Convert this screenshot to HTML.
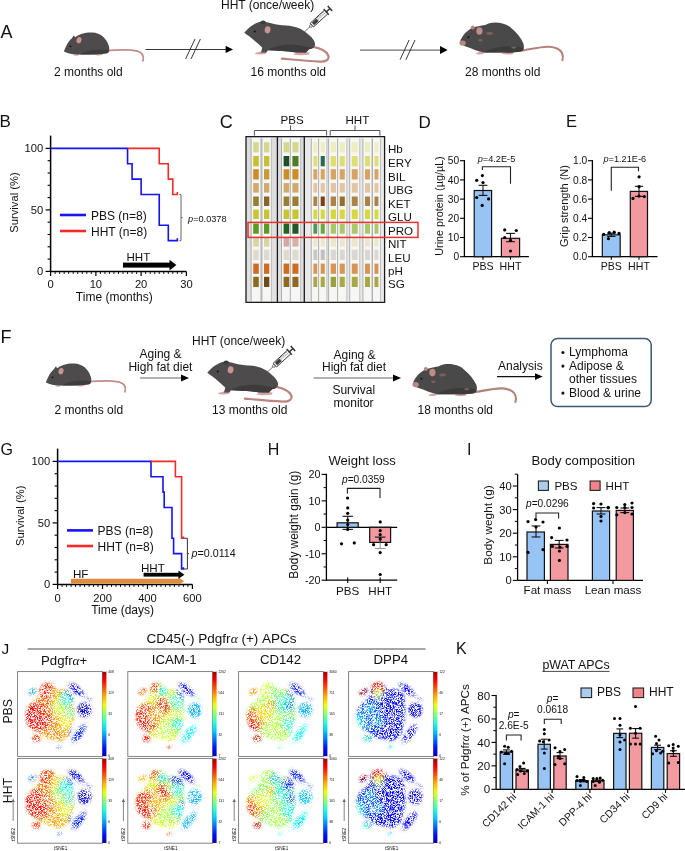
<!DOCTYPE html>
<html><head><meta charset="utf-8"><title>Figure</title>
<style>
html,body{margin:0;padding:0;background:#fff;}
svg{display:block;will-change:transform;}
text{font-family:"Liberation Sans",sans-serif;fill:#111;}
</style></head><body>
<svg width="685" height="851" viewBox="0 0 685 851" font-family="Liberation Sans, sans-serif">
<rect x="0" y="0" width="685" height="851" fill="#fff"/>
<text x="0.6" y="37.7" font-size="18">A</text>
<g transform="translate(0,0)">
<path d="M107,50.6 C118,49.6 131,49.6 137.5,51.2 C142.6,52.8 144.2,56.5 142.9,60.8" fill="none" stroke="#bf8e89" stroke-width="1.8" stroke-linecap="round"/>
<ellipse cx="76.5" cy="54.6" rx="3.2" ry="1.1" fill="#d3a09c"/>
<ellipse cx="98.5" cy="54.3" rx="4.2" ry="1.1" fill="#d3a09c"/>
<path d="M63.9,51.6 C65,48.5 66.8,44.5 68.8,41.6 C69.8,40 70.8,39.2 71.8,38.4 L73.6,35.4 L75.6,37.2 C79,34.2 85,32.4 92.2,32.6 C100.5,32.9 106.2,38.4 108.6,45.2 C109.8,48.8 109.6,52 107,53.2 C98,54.4 88,54.6 80,54.6 C74,54.6 68.5,54 63.9,51.6 Z" fill="#4d4b4b"/>
<path d="M80,54.5 C86,50 96,49 107.5,50 C109.4,51.4 108.8,52.8 107,53.2 C98,54.4 88,54.6 80,54.5 Z" fill="#3e3c3c"/>
<ellipse cx="79" cy="40.2" rx="2.5" ry="3.2" fill="#c99494" transform="rotate(15 79 40.2)"/>
<circle cx="70.5" cy="46.3" r="0.9" fill="#111"/>
</g>
<g transform="translate(0,0)">
<path d="M312.5,46.6 C319.5,48 326.8,51 328.4,55.6 C329.6,59.6 325.5,61.9 319.8,61.6 C306,61 293,59.6 281.8,58.6" fill="none" stroke="#b8857f" stroke-width="2.2" stroke-linecap="round"/>
<path d="M254.5,53.8 C257,51.6 262,51.2 266.5,51.6 L266,53.8 C262,54.6 257.5,54.6 254.5,53.8 Z" fill="#d5a3a0"/>
<path d="M293,54.4 C297,52.4 304,52 309.5,52.6 L309,54.6 C304,55.4 297.5,55.4 293,54.4 Z" fill="#d5a3a0"/>
<path d="M244.3,32.6 C246.5,30 249.5,27 252.5,25.2 C255.5,23.4 259,21.6 262,21.4 C268,22 275,24.8 286,25.4 C296,26 303,29 309,35 C313,38.5 315.6,42 315,45.2 C314.5,47.6 312,48.6 309,49.2 L306,52.6 L296,52.6 C290,51.4 286,51.2 281.8,51 C276,50.6 271,50.4 268,50.2 L266.4,52.4 L261,52.4 L262.2,47.4 C258,43.6 253,39.4 249.5,36.6 C247,34.8 245,33.6 244.3,32.6 Z" fill="#4d4b4b"/>
<path d="M268,50.2 C275,45 290,44 300,45.5 C306,46.5 311,47.8 313.5,47.6 C312.5,48.6 311,49 309,49.2 L306,52.6 L296,52.6 C290,51.4 284,51 268,50.2 Z" fill="#3d3b3b"/>
<ellipse cx="263.2" cy="22.6" rx="2.6" ry="2" fill="#3d3b3b"/>
<ellipse cx="267.6" cy="29.8" rx="2.9" ry="3.6" fill="#c99494" transform="rotate(10 267.6 29.8)"/>
<circle cx="254.8" cy="31.6" r="1" fill="#111"/>
</g>
<g transform="translate(0,0)">
<g transform="translate(302.7,33.5) rotate(-42.5)">
<line x1="0" y1="0" x2="10.2" y2="0" stroke="#555" stroke-width="0.8"/>
<rect x="10" y="-1.3" width="2.4" height="2.6" rx="0.8" fill="#fafafa" stroke="#333" stroke-width="0.7"/>
<rect x="12.4" y="-2.5" width="19.6" height="5" fill="#f6f6f6" stroke="#333" stroke-width="0.9"/>
<rect x="14" y="-1.7" width="6.2" height="3.4" fill="#3c3c3c"/>
<line x1="20.2" y1="0" x2="32" y2="0" stroke="#999" stroke-width="0.6"/>
<line x1="21.5" y1="-2.5" x2="21.5" y2="-1" stroke="#333" stroke-width="0.55"/>
<line x1="23.4" y1="-2.5" x2="23.4" y2="-1" stroke="#333" stroke-width="0.55"/>
<line x1="25.3" y1="-2.5" x2="25.3" y2="-1" stroke="#333" stroke-width="0.55"/>
<line x1="27.2" y1="-2.5" x2="27.2" y2="-1" stroke="#333" stroke-width="0.55"/>
<line x1="29.1" y1="-2.5" x2="29.1" y2="-1" stroke="#333" stroke-width="0.55"/>
<line x1="32" y1="-3.9" x2="32" y2="3.9" stroke="#333" stroke-width="1.2"/>
<line x1="32" y1="0" x2="37" y2="0" stroke="#333" stroke-width="1.4"/>
<line x1="37" y1="-3.3" x2="37" y2="3.3" stroke="#333" stroke-width="1.5"/>
</g></g>
<g transform="translate(0,0)">
<path d="M522.5,50.4 C533,48.6 543,46.4 549,46.8 C555,47.2 560,49 562,53 C563.4,56 563,58.4 562.4,60.3" fill="none" stroke="#b3817c" stroke-width="2.1" stroke-linecap="round"/>
<path d="M475.5,53.8 C477.5,52 481,51.6 484,52 L483.5,54 C480.5,54.6 478,54.6 475.5,53.8 Z" fill="#d5a3a0"/>
<path d="M501.5,53.8 C504,52 509,51.6 513.5,52 L513,54 C509,54.8 505,54.8 501.5,53.8 Z" fill="#d5a3a0"/>
<path d="M459.7,42.7 C460.8,38.2 464,33.6 467.6,31 C470,29 473,26.8 476,26.8 C479.5,26 482.6,25.4 485.2,25 C489,23 492,22.4 495.3,22.4 C502,22.4 508,24.5 512,28.8 C517,33 521,38 523.2,43 C524.6,47 524,50 521,51.6 C515,52.6 509,52.8 505.4,52.6 L484,52.6 C478,51.6 472,48.6 465,46.2 C462,45.2 459.5,44 459.7,42.7 Z" fill="#4a4949"/>
<path d="M484,52.6 C490,47 505,46 515,46.5 C519,46.8 522,47.6 523.6,48.4 C523.4,50 522.6,51 521,51.6 C515,52.6 509,52.8 505.4,52.6 Z" fill="#3c3b3b"/>
<ellipse cx="462.6" cy="43" rx="3.2" ry="2.6" fill="#b58a84"/>
<ellipse cx="472.8" cy="27.4" rx="2" ry="2" fill="#b88680"/>
<ellipse cx="479.4" cy="31" rx="3.1" ry="3.8" fill="#c08c88"/>
<ellipse cx="489.6" cy="33.4" rx="3.4" ry="1.4" fill="#7c605d"/>
<ellipse cx="480.4" cy="40.2" rx="2.3" ry="1.2" fill="#7c605d"/>
<ellipse cx="513.8" cy="47.6" rx="2.6" ry="1.1" fill="#7c605d"/>
<circle cx="468.4" cy="37.2" r="1" fill="#111"/>
</g>
<text x="221" y="9" font-size="12">HHT (once/week)</text>
<text x="54" y="76" font-size="12">2 months old</text>
<text x="250.6" y="76" font-size="12">16 months old</text>
<text x="465" y="76" font-size="12">28 months old</text>
<line x1="145.4" y1="49.4" x2="227" y2="49.4" stroke="#3a3a3a" stroke-width="1.05"/>
<polygon points="225.6,45.8 233,49.4 225.6,53" fill="#000"/>
<line x1="185.6" y1="59" x2="195" y2="39" stroke="#222" stroke-width="0.9"/>
<line x1="191" y1="59" x2="200.4" y2="39" stroke="#222" stroke-width="0.9"/>
<line x1="360" y1="50.1" x2="441" y2="50.1" stroke="#707070" stroke-width="1.1"/>
<polygon points="440,46.1 447.6,50.1 440,54.1" fill="#000"/>
<line x1="400.1" y1="59.7" x2="409.1" y2="40" stroke="#222" stroke-width="0.9"/>
<line x1="405.9" y1="59.7" x2="415" y2="40" stroke="#222" stroke-width="0.9"/>
<text x="-0.6" y="127" font-size="17">B</text>
<line x1="50.6" y1="135.6" x2="50.6" y2="272" stroke="#000" stroke-width="1.5"/>
<line x1="45.6" y1="271.4" x2="50.6" y2="271.4" stroke="#000" stroke-width="1.2"/>
<line x1="47.6" y1="259.1" x2="50.6" y2="259.1" stroke="#000" stroke-width="1.1"/>
<line x1="47.6" y1="246.8" x2="50.6" y2="246.8" stroke="#000" stroke-width="1.1"/>
<line x1="47.6" y1="234.5" x2="50.6" y2="234.5" stroke="#000" stroke-width="1.1"/>
<line x1="47.6" y1="222.2" x2="50.6" y2="222.2" stroke="#000" stroke-width="1.1"/>
<line x1="45.6" y1="209.9" x2="50.6" y2="209.9" stroke="#000" stroke-width="1.2"/>
<line x1="47.6" y1="197.6" x2="50.6" y2="197.6" stroke="#000" stroke-width="1.1"/>
<line x1="47.6" y1="185.3" x2="50.6" y2="185.3" stroke="#000" stroke-width="1.1"/>
<line x1="47.6" y1="173" x2="50.6" y2="173" stroke="#000" stroke-width="1.1"/>
<line x1="47.6" y1="160.7" x2="50.6" y2="160.7" stroke="#000" stroke-width="1.1"/>
<line x1="45.6" y1="148.4" x2="50.6" y2="148.4" stroke="#000" stroke-width="1.2"/>
<text x="43.2" y="152.4" font-size="11.2" text-anchor="end">100</text>
<text x="43.2" y="213.9" font-size="11.2" text-anchor="end">50</text>
<text x="43.2" y="275.4" font-size="11.2" text-anchor="end">0</text>
<line x1="49.9" y1="271.4" x2="186.4" y2="271.4" stroke="#000" stroke-width="1.5"/>
<line x1="50.6" y1="271.4" x2="50.6" y2="276" stroke="#000" stroke-width="1.2"/>
<line x1="55.13" y1="271.4" x2="55.13" y2="274" stroke="#000" stroke-width="0.9"/>
<line x1="59.65" y1="271.4" x2="59.65" y2="274" stroke="#000" stroke-width="0.9"/>
<line x1="64.18" y1="271.4" x2="64.18" y2="274" stroke="#000" stroke-width="0.9"/>
<line x1="68.71" y1="271.4" x2="68.71" y2="274" stroke="#000" stroke-width="0.9"/>
<line x1="73.23" y1="271.4" x2="73.23" y2="274" stroke="#000" stroke-width="0.9"/>
<line x1="77.76" y1="271.4" x2="77.76" y2="274" stroke="#000" stroke-width="0.9"/>
<line x1="82.29" y1="271.4" x2="82.29" y2="274" stroke="#000" stroke-width="0.9"/>
<line x1="86.81" y1="271.4" x2="86.81" y2="274" stroke="#000" stroke-width="0.9"/>
<line x1="91.34" y1="271.4" x2="91.34" y2="274" stroke="#000" stroke-width="0.9"/>
<line x1="95.87" y1="271.4" x2="95.87" y2="276" stroke="#000" stroke-width="1.2"/>
<line x1="100.39" y1="271.4" x2="100.39" y2="274" stroke="#000" stroke-width="0.9"/>
<line x1="104.92" y1="271.4" x2="104.92" y2="274" stroke="#000" stroke-width="0.9"/>
<line x1="109.45" y1="271.4" x2="109.45" y2="274" stroke="#000" stroke-width="0.9"/>
<line x1="113.97" y1="271.4" x2="113.97" y2="274" stroke="#000" stroke-width="0.9"/>
<line x1="118.5" y1="271.4" x2="118.5" y2="274" stroke="#000" stroke-width="0.9"/>
<line x1="123.03" y1="271.4" x2="123.03" y2="274" stroke="#000" stroke-width="0.9"/>
<line x1="127.55" y1="271.4" x2="127.55" y2="274" stroke="#000" stroke-width="0.9"/>
<line x1="132.08" y1="271.4" x2="132.08" y2="274" stroke="#000" stroke-width="0.9"/>
<line x1="136.61" y1="271.4" x2="136.61" y2="274" stroke="#000" stroke-width="0.9"/>
<line x1="141.13" y1="271.4" x2="141.13" y2="276" stroke="#000" stroke-width="1.2"/>
<line x1="145.66" y1="271.4" x2="145.66" y2="274" stroke="#000" stroke-width="0.9"/>
<line x1="150.19" y1="271.4" x2="150.19" y2="274" stroke="#000" stroke-width="0.9"/>
<line x1="154.71" y1="271.4" x2="154.71" y2="274" stroke="#000" stroke-width="0.9"/>
<line x1="159.24" y1="271.4" x2="159.24" y2="274" stroke="#000" stroke-width="0.9"/>
<line x1="163.77" y1="271.4" x2="163.77" y2="274" stroke="#000" stroke-width="0.9"/>
<line x1="168.29" y1="271.4" x2="168.29" y2="274" stroke="#000" stroke-width="0.9"/>
<line x1="172.82" y1="271.4" x2="172.82" y2="274" stroke="#000" stroke-width="0.9"/>
<line x1="177.35" y1="271.4" x2="177.35" y2="274" stroke="#000" stroke-width="0.9"/>
<line x1="181.87" y1="271.4" x2="181.87" y2="274" stroke="#000" stroke-width="0.9"/>
<line x1="186.4" y1="271.4" x2="186.4" y2="276" stroke="#000" stroke-width="1.2"/>
<text x="50.6" y="288.4" font-size="11.2" text-anchor="middle">0</text>
<text x="95.87" y="288.4" font-size="11.2" text-anchor="middle">10</text>
<text x="141.13" y="288.4" font-size="11.2" text-anchor="middle">20</text>
<text x="186.4" y="288.4" font-size="11.2" text-anchor="middle">30</text>
<text x="114.3" y="301.2" font-size="12" text-anchor="middle">Time (months)</text>
<text transform="translate(17.9,202.5) rotate(-90)" x="0" y="0" font-size="11.2" text-anchor="middle">Survival (%)</text>
<path d="M50.6,148.4 H127.55 V163.77 H132.08 V179.15 H141.13 V194.52 H159.24 V225.27 H168.29 V240.65 H177.35 V238.25" fill="none" stroke="#1414f5" stroke-width="1.6"/>
<path d="M127.55,148.4 H159.24 V163.77 H168.29 V179.15 H172.82 V194.52 H177.35 V192.12" fill="none" stroke="#f52a2a" stroke-width="1.6"/>
<line x1="60" y1="215" x2="86" y2="215" stroke="#1414f5" stroke-width="2.6"/>
<line x1="60" y1="231" x2="86" y2="231" stroke="#f52a2a" stroke-width="2.6"/>
<text x="91" y="220" font-size="12">PBS (n=8)</text>
<text x="91" y="235.6" font-size="12">HHT (n=8)</text>
<path d="M179.4,194.52 H181 V240.65 H179.4 M181,217.59 H182.6" fill="none" stroke="#666" stroke-width="1"/>
<text x="188" y="222" font-size="9.2"><tspan font-style="italic">p</tspan>=0.0378</text>
<rect x="123" y="262.6" width="47.5" height="5" fill="#000" stroke="none" stroke-width="1"/>
<polygon points="169.5,259.8 176.4,265.1 169.5,270.4" fill="#000"/>
<text x="126.4" y="261" font-size="11.6">HHT</text>
<text x="219.8" y="127.6" font-size="18">C</text>
<text x="280.5" y="123.5" font-size="11.6">PBS</text>
<text x="345.4" y="123.5" font-size="11.6">HHT</text>
<path d="M254.4,135.7 V130.5 H326.6 V135.7 M290.5,130.5 V125.4" fill="none" stroke="#555" stroke-width="1"/>
<path d="M330.2,135.7 V130.5 H379.9 V135.7 M355,130.5 V125.4" fill="none" stroke="#555" stroke-width="1"/>
<defs><linearGradient id="pg" x1="0" y1="0" x2="0" y2="1"><stop offset="0" stop-color="#dcdcdc"/><stop offset="1" stop-color="#e2e2e2"/></linearGradient></defs>
<rect x="246" y="136.6" width="138.6" height="165.8" fill="url(#pg)" stroke="none" stroke-width="1"/>
<rect x="304.3" y="136.6" width="80.3" height="165.8" fill="#e9e9e9" stroke="none" stroke-width="1"/>
<rect x="251.4" y="137.6" width="9.2" height="163.8" fill="#f6f6f4" stroke="none" stroke-width="1"/>
<line x1="251.1" y1="138.6" x2="251.1" y2="301.4" stroke="#a0a0a0" stroke-width="0.8"/>
<line x1="260.9" y1="138.6" x2="260.9" y2="301.4" stroke="#b4b4b4" stroke-width="0.8"/>
<rect x="262.2" y="137.6" width="8.9" height="163.8" fill="#f6f6f4" stroke="none" stroke-width="1"/>
<line x1="261.9" y1="138.6" x2="261.9" y2="301.4" stroke="#a0a0a0" stroke-width="0.8"/>
<line x1="271.4" y1="138.6" x2="271.4" y2="301.4" stroke="#b4b4b4" stroke-width="0.8"/>
<rect x="281.8" y="137.6" width="9.2" height="163.8" fill="#f6f6f4" stroke="none" stroke-width="1"/>
<line x1="281.5" y1="138.6" x2="281.5" y2="301.4" stroke="#a0a0a0" stroke-width="0.8"/>
<line x1="291.3" y1="138.6" x2="291.3" y2="301.4" stroke="#b4b4b4" stroke-width="0.8"/>
<rect x="290.6" y="137.6" width="9.7" height="163.8" fill="#f6f6f4" stroke="none" stroke-width="1"/>
<line x1="290.3" y1="138.6" x2="290.3" y2="301.4" stroke="#a0a0a0" stroke-width="0.8"/>
<line x1="300.6" y1="138.6" x2="300.6" y2="301.4" stroke="#b4b4b4" stroke-width="0.8"/>
<rect x="311.6" y="137.6" width="7.4" height="163.8" fill="#f6f6f4" stroke="none" stroke-width="1"/>
<line x1="311.3" y1="138.6" x2="311.3" y2="301.4" stroke="#a0a0a0" stroke-width="0.8"/>
<line x1="319.3" y1="138.6" x2="319.3" y2="301.4" stroke="#b4b4b4" stroke-width="0.8"/>
<rect x="318.9" y="137.6" width="7.7" height="163.8" fill="#f6f6f4" stroke="none" stroke-width="1"/>
<line x1="318.6" y1="138.6" x2="318.6" y2="301.4" stroke="#a0a0a0" stroke-width="0.8"/>
<line x1="326.9" y1="138.6" x2="326.9" y2="301.4" stroke="#b4b4b4" stroke-width="0.8"/>
<rect x="328.9" y="137.6" width="8.9" height="163.8" fill="#f6f6f4" stroke="none" stroke-width="1"/>
<line x1="328.6" y1="138.6" x2="328.6" y2="301.4" stroke="#a0a0a0" stroke-width="0.8"/>
<line x1="338.1" y1="138.6" x2="338.1" y2="301.4" stroke="#b4b4b4" stroke-width="0.8"/>
<rect x="337.9" y="137.6" width="8.7" height="163.8" fill="#f6f6f4" stroke="none" stroke-width="1"/>
<line x1="337.6" y1="138.6" x2="337.6" y2="301.4" stroke="#a0a0a0" stroke-width="0.8"/>
<line x1="346.9" y1="138.6" x2="346.9" y2="301.4" stroke="#b4b4b4" stroke-width="0.8"/>
<rect x="350" y="137.6" width="9.5" height="163.8" fill="#f6f6f4" stroke="none" stroke-width="1"/>
<line x1="349.7" y1="138.6" x2="349.7" y2="301.4" stroke="#a0a0a0" stroke-width="0.8"/>
<line x1="359.8" y1="138.6" x2="359.8" y2="301.4" stroke="#b4b4b4" stroke-width="0.8"/>
<rect x="363.2" y="137.6" width="8.6" height="163.8" fill="#f6f6f4" stroke="none" stroke-width="1"/>
<line x1="362.9" y1="138.6" x2="362.9" y2="301.4" stroke="#a0a0a0" stroke-width="0.8"/>
<line x1="372.1" y1="138.6" x2="372.1" y2="301.4" stroke="#b4b4b4" stroke-width="0.8"/>
<rect x="372.7" y="137.6" width="7.5" height="163.8" fill="#f6f6f4" stroke="none" stroke-width="1"/>
<line x1="372.4" y1="138.6" x2="372.4" y2="301.4" stroke="#a0a0a0" stroke-width="0.8"/>
<line x1="380.5" y1="138.6" x2="380.5" y2="301.4" stroke="#b4b4b4" stroke-width="0.8"/>
<rect x="253.2" y="142.2" width="5.6" height="10.2" fill="#d4d88e" stroke="none" stroke-width="1"/>
<rect x="253.2" y="156" width="5.6" height="10.3" fill="#c6c034" stroke="none" stroke-width="1"/>
<rect x="253.2" y="169.2" width="5.6" height="10.3" fill="#cc8c2a" stroke="none" stroke-width="1"/>
<rect x="253.2" y="183.1" width="5.6" height="9.5" fill="#d0aa6c" stroke="none" stroke-width="1"/>
<rect x="253.2" y="196.5" width="5.6" height="9.5" fill="#9a7c34" stroke="none" stroke-width="1"/>
<rect x="253.2" y="209.6" width="5.6" height="9.4" fill="#c8c434" stroke="none" stroke-width="1"/>
<rect x="253.2" y="223.5" width="5.6" height="10.2" fill="#5e9a22" stroke="none" stroke-width="1"/>
<rect x="253.2" y="237.6" width="5.6" height="9" fill="#d6d6a0" stroke="none" stroke-width="1"/>
<rect x="253.2" y="249.7" width="5.6" height="10.3" fill="#dedad0" stroke="none" stroke-width="1"/>
<rect x="253.2" y="263.6" width="5.6" height="10.2" fill="#d06c22" stroke="none" stroke-width="1"/>
<rect x="253.2" y="276.8" width="5.6" height="10.2" fill="#8c6a22" stroke="none" stroke-width="1"/>
<rect x="264" y="142.2" width="5.3" height="10.2" fill="#d4d88e" stroke="none" stroke-width="1"/>
<rect x="264" y="156" width="5.3" height="10.3" fill="#c6c034" stroke="none" stroke-width="1"/>
<rect x="264" y="169.2" width="5.3" height="10.3" fill="#c69a36" stroke="none" stroke-width="1"/>
<rect x="264" y="183.1" width="5.3" height="9.5" fill="#d0aa6c" stroke="none" stroke-width="1"/>
<rect x="264" y="196.5" width="5.3" height="9.5" fill="#8a6230" stroke="none" stroke-width="1"/>
<rect x="264" y="209.6" width="5.3" height="9.4" fill="#c8c434" stroke="none" stroke-width="1"/>
<rect x="264" y="223.5" width="5.3" height="10.2" fill="#5e9a22" stroke="none" stroke-width="1"/>
<rect x="264" y="237.6" width="5.3" height="9" fill="#d6d6a0" stroke="none" stroke-width="1"/>
<rect x="264" y="249.7" width="5.3" height="10.3" fill="#dedad0" stroke="none" stroke-width="1"/>
<rect x="264" y="263.6" width="5.3" height="10.2" fill="#d06c22" stroke="none" stroke-width="1"/>
<rect x="264" y="276.8" width="5.3" height="10.2" fill="#6c4a1a" stroke="none" stroke-width="1"/>
<rect x="283.6" y="142.2" width="5.6" height="10.2" fill="#d4d88e" stroke="none" stroke-width="1"/>
<rect x="283.6" y="156" width="5.6" height="10.3" fill="#1c4e2c" stroke="none" stroke-width="1"/>
<rect x="283.6" y="169.2" width="5.6" height="10.3" fill="#cc8c2a" stroke="none" stroke-width="1"/>
<rect x="283.6" y="183.1" width="5.6" height="9.5" fill="#d0aa6c" stroke="none" stroke-width="1"/>
<rect x="283.6" y="196.5" width="5.6" height="9.5" fill="#9a7c34" stroke="none" stroke-width="1"/>
<rect x="283.6" y="209.6" width="5.6" height="9.4" fill="#c8c434" stroke="none" stroke-width="1"/>
<rect x="283.6" y="223.5" width="5.6" height="10.2" fill="#1d6420" stroke="none" stroke-width="1"/>
<rect x="283.6" y="237.6" width="5.6" height="9" fill="#d4a6a6" stroke="none" stroke-width="1"/>
<rect x="283.6" y="249.7" width="5.6" height="10.3" fill="#dedad0" stroke="none" stroke-width="1"/>
<rect x="283.6" y="263.6" width="5.6" height="10.2" fill="#d06c22" stroke="none" stroke-width="1"/>
<rect x="283.6" y="276.8" width="5.6" height="10.2" fill="#8c6a22" stroke="none" stroke-width="1"/>
<rect x="292.4" y="142.2" width="6.1" height="10.2" fill="#d4d88e" stroke="none" stroke-width="1"/>
<rect x="292.4" y="156" width="6.1" height="10.3" fill="#4e7a2a" stroke="none" stroke-width="1"/>
<rect x="292.4" y="169.2" width="6.1" height="10.3" fill="#cc8c2a" stroke="none" stroke-width="1"/>
<rect x="292.4" y="183.1" width="6.1" height="9.5" fill="#d0aa6c" stroke="none" stroke-width="1"/>
<rect x="292.4" y="196.5" width="6.1" height="9.5" fill="#9a7c34" stroke="none" stroke-width="1"/>
<rect x="292.4" y="209.6" width="6.1" height="9.4" fill="#c8c434" stroke="none" stroke-width="1"/>
<rect x="292.4" y="223.5" width="6.1" height="10.2" fill="#1f5a26" stroke="none" stroke-width="1"/>
<rect x="292.4" y="237.6" width="6.1" height="9" fill="#d8b0a8" stroke="none" stroke-width="1"/>
<rect x="292.4" y="249.7" width="6.1" height="10.3" fill="#dedad0" stroke="none" stroke-width="1"/>
<rect x="292.4" y="263.6" width="6.1" height="10.2" fill="#d06c22" stroke="none" stroke-width="1"/>
<rect x="292.4" y="276.8" width="6.1" height="10.2" fill="#8c6a22" stroke="none" stroke-width="1"/>
<rect x="313.4" y="142.2" width="3.8" height="10.2" fill="#eceec0" stroke="none" stroke-width="1"/>
<rect x="313.4" y="156" width="3.8" height="10.3" fill="#dedf72" stroke="none" stroke-width="1"/>
<rect x="313.4" y="169.2" width="3.8" height="10.3" fill="#d8a464" stroke="none" stroke-width="1"/>
<rect x="313.4" y="183.1" width="3.8" height="9.5" fill="#e2c4a4" stroke="none" stroke-width="1"/>
<rect x="313.4" y="196.5" width="3.8" height="9.5" fill="#aa8444" stroke="none" stroke-width="1"/>
<rect x="313.4" y="209.6" width="3.8" height="9.4" fill="#d6d83e" stroke="none" stroke-width="1"/>
<rect x="313.4" y="223.5" width="3.8" height="10.2" fill="#4a9a56" stroke="none" stroke-width="1"/>
<rect x="313.4" y="237.6" width="3.8" height="9" fill="#ece6cc" stroke="none" stroke-width="1"/>
<rect x="313.4" y="249.7" width="3.8" height="10.3" fill="#c8c6c6" stroke="none" stroke-width="1"/>
<rect x="313.4" y="263.6" width="3.8" height="10.2" fill="#d89452" stroke="none" stroke-width="1"/>
<rect x="313.4" y="276.8" width="3.8" height="10.2" fill="#a8a844" stroke="none" stroke-width="1"/>
<rect x="320.7" y="142.2" width="4.1" height="10.2" fill="#eceec0" stroke="none" stroke-width="1"/>
<rect x="320.7" y="156" width="4.1" height="10.3" fill="#2a6a52" stroke="none" stroke-width="1"/>
<rect x="320.7" y="169.2" width="4.1" height="10.3" fill="#d8a464" stroke="none" stroke-width="1"/>
<rect x="320.7" y="183.1" width="4.1" height="9.5" fill="#e2c4a4" stroke="none" stroke-width="1"/>
<rect x="320.7" y="196.5" width="4.1" height="9.5" fill="#7c4018" stroke="none" stroke-width="1"/>
<rect x="320.7" y="209.6" width="4.1" height="9.4" fill="#d6d83e" stroke="none" stroke-width="1"/>
<rect x="320.7" y="223.5" width="4.1" height="10.2" fill="#66a840" stroke="none" stroke-width="1"/>
<rect x="320.7" y="237.6" width="4.1" height="9" fill="#ece6cc" stroke="none" stroke-width="1"/>
<rect x="320.7" y="249.7" width="4.1" height="10.3" fill="#c2c0c0" stroke="none" stroke-width="1"/>
<rect x="320.7" y="263.6" width="4.1" height="10.2" fill="#d89452" stroke="none" stroke-width="1"/>
<rect x="320.7" y="276.8" width="4.1" height="10.2" fill="#a8a844" stroke="none" stroke-width="1"/>
<rect x="330.7" y="142.2" width="5.3" height="10.2" fill="#eceec0" stroke="none" stroke-width="1"/>
<rect x="330.7" y="156" width="5.3" height="10.3" fill="#dedf72" stroke="none" stroke-width="1"/>
<rect x="330.7" y="169.2" width="5.3" height="10.3" fill="#d8a464" stroke="none" stroke-width="1"/>
<rect x="330.7" y="183.1" width="5.3" height="9.5" fill="#e2c4a4" stroke="none" stroke-width="1"/>
<rect x="330.7" y="196.5" width="5.3" height="9.5" fill="#aa8444" stroke="none" stroke-width="1"/>
<rect x="330.7" y="209.6" width="5.3" height="9.4" fill="#d6d83e" stroke="none" stroke-width="1"/>
<rect x="330.7" y="223.5" width="5.3" height="10.2" fill="#a8c86a" stroke="none" stroke-width="1"/>
<rect x="330.7" y="237.6" width="5.3" height="9" fill="#ece6cc" stroke="none" stroke-width="1"/>
<rect x="330.7" y="249.7" width="5.3" height="10.3" fill="#dad6d2" stroke="none" stroke-width="1"/>
<rect x="330.7" y="263.6" width="5.3" height="10.2" fill="#d89452" stroke="none" stroke-width="1"/>
<rect x="330.7" y="276.8" width="5.3" height="10.2" fill="#98a040" stroke="none" stroke-width="1"/>
<rect x="339.7" y="142.2" width="5.1" height="10.2" fill="#eceec0" stroke="none" stroke-width="1"/>
<rect x="339.7" y="156" width="5.1" height="10.3" fill="#dedf72" stroke="none" stroke-width="1"/>
<rect x="339.7" y="169.2" width="5.1" height="10.3" fill="#d8a464" stroke="none" stroke-width="1"/>
<rect x="339.7" y="183.1" width="5.1" height="9.5" fill="#e2c4a4" stroke="none" stroke-width="1"/>
<rect x="339.7" y="196.5" width="5.1" height="9.5" fill="#94702c" stroke="none" stroke-width="1"/>
<rect x="339.7" y="209.6" width="5.1" height="9.4" fill="#d6d83e" stroke="none" stroke-width="1"/>
<rect x="339.7" y="223.5" width="5.1" height="10.2" fill="#a8c86a" stroke="none" stroke-width="1"/>
<rect x="339.7" y="237.6" width="5.1" height="9" fill="#ece6cc" stroke="none" stroke-width="1"/>
<rect x="339.7" y="249.7" width="5.1" height="10.3" fill="#dad6d2" stroke="none" stroke-width="1"/>
<rect x="339.7" y="263.6" width="5.1" height="10.2" fill="#d89452" stroke="none" stroke-width="1"/>
<rect x="339.7" y="276.8" width="5.1" height="10.2" fill="#a8a844" stroke="none" stroke-width="1"/>
<rect x="351.8" y="142.2" width="5.9" height="10.2" fill="#eceec0" stroke="none" stroke-width="1"/>
<rect x="351.8" y="156" width="5.9" height="10.3" fill="#dedf72" stroke="none" stroke-width="1"/>
<rect x="351.8" y="169.2" width="5.9" height="10.3" fill="#d8a464" stroke="none" stroke-width="1"/>
<rect x="351.8" y="183.1" width="5.9" height="9.5" fill="#e2c4a4" stroke="none" stroke-width="1"/>
<rect x="351.8" y="196.5" width="5.9" height="9.5" fill="#aa8444" stroke="none" stroke-width="1"/>
<rect x="351.8" y="209.6" width="5.9" height="9.4" fill="#d6d83e" stroke="none" stroke-width="1"/>
<rect x="351.8" y="223.5" width="5.9" height="10.2" fill="#a8c86a" stroke="none" stroke-width="1"/>
<rect x="351.8" y="237.6" width="5.9" height="9" fill="#ece6cc" stroke="none" stroke-width="1"/>
<rect x="351.8" y="249.7" width="5.9" height="10.3" fill="#dad6d2" stroke="none" stroke-width="1"/>
<rect x="351.8" y="263.6" width="5.9" height="10.2" fill="#d89452" stroke="none" stroke-width="1"/>
<rect x="351.8" y="276.8" width="5.9" height="10.2" fill="#a8a844" stroke="none" stroke-width="1"/>
<rect x="365" y="142.2" width="5" height="10.2" fill="#eceec0" stroke="none" stroke-width="1"/>
<rect x="365" y="156" width="5" height="10.3" fill="#dedf72" stroke="none" stroke-width="1"/>
<rect x="365" y="169.2" width="5" height="10.3" fill="#d8a464" stroke="none" stroke-width="1"/>
<rect x="365" y="183.1" width="5" height="9.5" fill="#e2c4a4" stroke="none" stroke-width="1"/>
<rect x="365" y="196.5" width="5" height="9.5" fill="#aa8444" stroke="none" stroke-width="1"/>
<rect x="365" y="209.6" width="5" height="9.4" fill="#d6d83e" stroke="none" stroke-width="1"/>
<rect x="365" y="223.5" width="5" height="10.2" fill="#a8c86a" stroke="none" stroke-width="1"/>
<rect x="365" y="237.6" width="5" height="9" fill="#ece6cc" stroke="none" stroke-width="1"/>
<rect x="365" y="249.7" width="5" height="10.3" fill="#dad6d2" stroke="none" stroke-width="1"/>
<rect x="365" y="263.6" width="5" height="10.2" fill="#d89452" stroke="none" stroke-width="1"/>
<rect x="365" y="276.8" width="5" height="10.2" fill="#a8a844" stroke="none" stroke-width="1"/>
<rect x="374.5" y="142.2" width="3.9" height="10.2" fill="#eceec0" stroke="none" stroke-width="1"/>
<rect x="374.5" y="156" width="3.9" height="10.3" fill="#dedf72" stroke="none" stroke-width="1"/>
<rect x="374.5" y="169.2" width="3.9" height="10.3" fill="#d8a464" stroke="none" stroke-width="1"/>
<rect x="374.5" y="183.1" width="3.9" height="9.5" fill="#e2c4a4" stroke="none" stroke-width="1"/>
<rect x="374.5" y="196.5" width="3.9" height="9.5" fill="#aa8444" stroke="none" stroke-width="1"/>
<rect x="374.5" y="209.6" width="3.9" height="9.4" fill="#d6d83e" stroke="none" stroke-width="1"/>
<rect x="374.5" y="223.5" width="3.9" height="10.2" fill="#a8c86a" stroke="none" stroke-width="1"/>
<rect x="374.5" y="237.6" width="3.9" height="9" fill="#ece6cc" stroke="none" stroke-width="1"/>
<rect x="374.5" y="249.7" width="3.9" height="10.3" fill="#dad6d2" stroke="none" stroke-width="1"/>
<rect x="374.5" y="263.6" width="3.9" height="10.2" fill="#d89452" stroke="none" stroke-width="1"/>
<rect x="374.5" y="276.8" width="3.9" height="10.2" fill="#a8a844" stroke="none" stroke-width="1"/>
<path d="M246,136.6 H384.6 V302.4 H246 Z M277.4,136.6 V302.4 M304.3,136.6 V302.4" fill="none" stroke="#1a1a1a" stroke-width="1.3"/>
<text x="388" y="153" font-size="11.6">Hb</text>
<text x="388" y="167" font-size="11.6">ERY</text>
<text x="388" y="180.6" font-size="11.6">BIL</text>
<text x="388" y="194.4" font-size="11.6">UBG</text>
<text x="388" y="207.7" font-size="11.6">KET</text>
<text x="388" y="221" font-size="11.6">GLU</text>
<text x="388" y="235" font-size="11.6">PRO</text>
<text x="388" y="248.2" font-size="11.6">NIT</text>
<text x="388" y="261.6" font-size="11.6">LEU</text>
<text x="388" y="275" font-size="11.6">pH</text>
<text x="388" y="288.4" font-size="11.6">SG</text>
<rect x="248" y="222.4" width="170" height="15" fill="none" stroke="#e8322e" stroke-width="1.5"/>
<text x="418.6" y="127.8" font-size="17">D</text>
<line x1="464.4" y1="160.1" x2="464.4" y2="256.7" stroke="#000" stroke-width="1.3"/>
<line x1="460" y1="256.7" x2="464.4" y2="256.7" stroke="#000" stroke-width="1.1"/>
<text x="459.2" y="260.3" font-size="10.2" text-anchor="end">0</text>
<line x1="460" y1="237.5" x2="464.4" y2="237.5" stroke="#000" stroke-width="1.1"/>
<text x="459.2" y="241.1" font-size="10.2" text-anchor="end">10</text>
<line x1="460" y1="218.3" x2="464.4" y2="218.3" stroke="#000" stroke-width="1.1"/>
<text x="459.2" y="221.9" font-size="10.2" text-anchor="end">20</text>
<line x1="460" y1="199.1" x2="464.4" y2="199.1" stroke="#000" stroke-width="1.1"/>
<text x="459.2" y="202.7" font-size="10.2" text-anchor="end">30</text>
<line x1="460" y1="179.9" x2="464.4" y2="179.9" stroke="#000" stroke-width="1.1"/>
<text x="459.2" y="183.5" font-size="10.2" text-anchor="end">40</text>
<line x1="460" y1="160.7" x2="464.4" y2="160.7" stroke="#000" stroke-width="1.1"/>
<text x="459.2" y="164.3" font-size="10.2" text-anchor="end">50</text>
<line x1="463.8" y1="256.7" x2="528.9" y2="256.7" stroke="#000" stroke-width="1.3"/>
<line x1="483" y1="256.7" x2="483" y2="259.7" stroke="#000" stroke-width="1.1"/>
<line x1="510.5" y1="256.7" x2="510.5" y2="259.7" stroke="#000" stroke-width="1.1"/>
<rect x="474.2" y="190.5" width="17.4" height="66.2" fill="#97c4f5" stroke="#111" stroke-width="1.2"/>
<rect x="501.4" y="238.3" width="18.2" height="18.4" fill="#f29aa0" stroke="#111" stroke-width="1.2"/>
<line x1="483" y1="185.3" x2="483" y2="195.4" stroke="#111" stroke-width="1.1"/>
<line x1="478.6" y1="185.3" x2="487.4" y2="185.3" stroke="#111" stroke-width="1.1"/>
<line x1="478.6" y1="195.4" x2="487.4" y2="195.4" stroke="#111" stroke-width="1.1"/>
<line x1="510.5" y1="233.4" x2="510.5" y2="241.7" stroke="#111" stroke-width="1.1"/>
<line x1="506.1" y1="233.4" x2="514.9" y2="233.4" stroke="#111" stroke-width="1.1"/>
<line x1="506.1" y1="241.7" x2="514.9" y2="241.7" stroke="#111" stroke-width="1.1"/>
<circle cx="482.4" cy="175.6" r="1.6" fill="#000"/>
<circle cx="476.7" cy="180.3" r="1.6" fill="#000"/>
<circle cx="483" cy="182.6" r="1.6" fill="#000"/>
<circle cx="476.7" cy="197.5" r="1.6" fill="#000"/>
<circle cx="488.6" cy="198.9" r="1.6" fill="#000"/>
<circle cx="482.2" cy="205.4" r="1.6" fill="#000"/>
<circle cx="504.7" cy="229.9" r="1.6" fill="#000"/>
<circle cx="516.3" cy="230.5" r="1.6" fill="#000"/>
<circle cx="504.7" cy="237.5" r="1.6" fill="#000"/>
<circle cx="510.5" cy="240.4" r="1.6" fill="#000"/>
<circle cx="510.5" cy="251" r="1.6" fill="#000"/>
<path d="M482.4,170 V166.7 H510.5 V183.8" fill="none" stroke="#222" stroke-width="1.1"/>
<text x="477.7" y="162" font-size="9.2"><tspan font-style="italic">p</tspan>=4.2E-5</text>
<text x="483" y="270.2" font-size="10.6" text-anchor="middle">PBS</text>
<text x="510.5" y="270.2" font-size="10.6" text-anchor="middle">HHT</text>
<text transform="translate(443.4,206) rotate(-90)" x="0" y="0" font-size="10.8" text-anchor="middle">Urine protein (µg/µL)</text>
<text x="566" y="127.4" font-size="16.5">E</text>
<line x1="592.4" y1="160.1" x2="592.4" y2="256.7" stroke="#000" stroke-width="1.3"/>
<line x1="588" y1="256.7" x2="592.4" y2="256.7" stroke="#000" stroke-width="1.1"/>
<text x="587.2" y="260.3" font-size="10.2" text-anchor="end">0.0</text>
<line x1="588" y1="237.5" x2="592.4" y2="237.5" stroke="#000" stroke-width="1.1"/>
<text x="587.2" y="241.1" font-size="10.2" text-anchor="end">0.2</text>
<line x1="588" y1="218.3" x2="592.4" y2="218.3" stroke="#000" stroke-width="1.1"/>
<text x="587.2" y="221.9" font-size="10.2" text-anchor="end">0.4</text>
<line x1="588" y1="199.1" x2="592.4" y2="199.1" stroke="#000" stroke-width="1.1"/>
<text x="587.2" y="202.7" font-size="10.2" text-anchor="end">0.6</text>
<line x1="588" y1="179.9" x2="592.4" y2="179.9" stroke="#000" stroke-width="1.1"/>
<text x="587.2" y="183.5" font-size="10.2" text-anchor="end">0.8</text>
<line x1="588" y1="160.7" x2="592.4" y2="160.7" stroke="#000" stroke-width="1.1"/>
<text x="587.2" y="164.3" font-size="10.2" text-anchor="end">1.0</text>
<line x1="591.8" y1="256.7" x2="657.5" y2="256.7" stroke="#000" stroke-width="1.3"/>
<line x1="611.3" y1="256.7" x2="611.3" y2="259.7" stroke="#000" stroke-width="1.1"/>
<line x1="639" y1="256.7" x2="639" y2="259.7" stroke="#000" stroke-width="1.1"/>
<rect x="602.3" y="234.8" width="17.9" height="21.9" fill="#97c4f5" stroke="#111" stroke-width="1.2"/>
<rect x="630.3" y="191.4" width="17.2" height="65.3" fill="#f29aa0" stroke="#111" stroke-width="1.2"/>
<line x1="611.3" y1="233.2" x2="611.3" y2="236.4" stroke="#111" stroke-width="1.1"/>
<line x1="607.1" y1="233.2" x2="615.5" y2="233.2" stroke="#111" stroke-width="1.1"/>
<line x1="607.1" y1="236.4" x2="615.5" y2="236.4" stroke="#111" stroke-width="1.1"/>
<line x1="639" y1="186.3" x2="639" y2="196.4" stroke="#111" stroke-width="1.1"/>
<line x1="634.8" y1="186.3" x2="643.2" y2="186.3" stroke="#111" stroke-width="1.1"/>
<line x1="634.8" y1="196.4" x2="643.2" y2="196.4" stroke="#111" stroke-width="1.1"/>
<circle cx="603.7" cy="234.3" r="1.6" fill="#000"/>
<circle cx="609.3" cy="232.6" r="1.6" fill="#000"/>
<circle cx="614.2" cy="232.2" r="1.6" fill="#000"/>
<circle cx="619" cy="233.4" r="1.6" fill="#000"/>
<circle cx="608.4" cy="238.7" r="1.6" fill="#000"/>
<circle cx="639.1" cy="176.8" r="1.6" fill="#000"/>
<circle cx="639.1" cy="186.7" r="1.6" fill="#000"/>
<circle cx="633" cy="198.4" r="1.6" fill="#000"/>
<circle cx="639" cy="196.1" r="1.6" fill="#000"/>
<circle cx="644.3" cy="196.6" r="1.6" fill="#000"/>
<path d="M611.3,190.8 V167.2 H638.5 V171.2" fill="none" stroke="#222" stroke-width="1.1"/>
<text x="603.4" y="162" font-size="9.2"><tspan font-style="italic">p</tspan>=1.21E-6</text>
<text x="611.3" y="270.2" font-size="10.6" text-anchor="middle">PBS</text>
<text x="639" y="270.2" font-size="10.6" text-anchor="middle">HHT</text>
<text transform="translate(568.2,206) rotate(-90)" x="0" y="0" font-size="11" text-anchor="middle">Grip strength (N)</text>
<text x="0.4" y="343" font-size="18">F</text>
<g transform="translate(-18,331)">
<path d="M107,50.6 C118,49.6 131,49.6 137.5,51.2 C142.6,52.8 144.2,56.5 142.9,60.8" fill="none" stroke="#bf8e89" stroke-width="1.8" stroke-linecap="round"/>
<ellipse cx="76.5" cy="54.6" rx="3.2" ry="1.1" fill="#d3a09c"/>
<ellipse cx="98.5" cy="54.3" rx="4.2" ry="1.1" fill="#d3a09c"/>
<path d="M63.9,51.6 C65,48.5 66.8,44.5 68.8,41.6 C69.8,40 70.8,39.2 71.8,38.4 L73.6,35.4 L75.6,37.2 C79,34.2 85,32.4 92.2,32.6 C100.5,32.9 106.2,38.4 108.6,45.2 C109.8,48.8 109.6,52 107,53.2 C98,54.4 88,54.6 80,54.6 C74,54.6 68.5,54 63.9,51.6 Z" fill="#4d4b4b"/>
<path d="M80,54.5 C86,50 96,49 107.5,50 C109.4,51.4 108.8,52.8 107,53.2 C98,54.4 88,54.6 80,54.5 Z" fill="#3e3c3c"/>
<ellipse cx="79" cy="40.2" rx="2.5" ry="3.2" fill="#c99494" transform="rotate(15 79 40.2)"/>
<circle cx="70.5" cy="46.3" r="0.9" fill="#111"/>
</g>
<g transform="translate(-37,340)">
<path d="M312.5,46.6 C319.5,48 326.8,51 328.4,55.6 C329.6,59.6 325.5,61.9 319.8,61.6 C306,61 293,59.6 281.8,58.6" fill="none" stroke="#b8857f" stroke-width="2.2" stroke-linecap="round"/>
<path d="M254.5,53.8 C257,51.6 262,51.2 266.5,51.6 L266,53.8 C262,54.6 257.5,54.6 254.5,53.8 Z" fill="#d5a3a0"/>
<path d="M293,54.4 C297,52.4 304,52 309.5,52.6 L309,54.6 C304,55.4 297.5,55.4 293,54.4 Z" fill="#d5a3a0"/>
<path d="M244.3,32.6 C246.5,30 249.5,27 252.5,25.2 C255.5,23.4 259,21.6 262,21.4 C268,22 275,24.8 286,25.4 C296,26 303,29 309,35 C313,38.5 315.6,42 315,45.2 C314.5,47.6 312,48.6 309,49.2 L306,52.6 L296,52.6 C290,51.4 286,51.2 281.8,51 C276,50.6 271,50.4 268,50.2 L266.4,52.4 L261,52.4 L262.2,47.4 C258,43.6 253,39.4 249.5,36.6 C247,34.8 245,33.6 244.3,32.6 Z" fill="#4d4b4b"/>
<path d="M268,50.2 C275,45 290,44 300,45.5 C306,46.5 311,47.8 313.5,47.6 C312.5,48.6 311,49 309,49.2 L306,52.6 L296,52.6 C290,51.4 284,51 268,50.2 Z" fill="#3d3b3b"/>
<ellipse cx="263.2" cy="22.6" rx="2.6" ry="2" fill="#3d3b3b"/>
<ellipse cx="267.6" cy="29.8" rx="2.9" ry="3.6" fill="#c99494" transform="rotate(10 267.6 29.8)"/>
<circle cx="254.8" cy="31.6" r="1" fill="#111"/>
</g>
<g transform="translate(-37,340)">
<g transform="translate(302.7,33.5) rotate(-42.5)">
<line x1="0" y1="0" x2="10.2" y2="0" stroke="#555" stroke-width="0.8"/>
<rect x="10" y="-1.3" width="2.4" height="2.6" rx="0.8" fill="#fafafa" stroke="#333" stroke-width="0.7"/>
<rect x="12.4" y="-2.5" width="19.6" height="5" fill="#f6f6f6" stroke="#333" stroke-width="0.9"/>
<rect x="14" y="-1.7" width="6.2" height="3.4" fill="#3c3c3c"/>
<line x1="20.2" y1="0" x2="32" y2="0" stroke="#999" stroke-width="0.6"/>
<line x1="21.5" y1="-2.5" x2="21.5" y2="-1" stroke="#333" stroke-width="0.55"/>
<line x1="23.4" y1="-2.5" x2="23.4" y2="-1" stroke="#333" stroke-width="0.55"/>
<line x1="25.3" y1="-2.5" x2="25.3" y2="-1" stroke="#333" stroke-width="0.55"/>
<line x1="27.2" y1="-2.5" x2="27.2" y2="-1" stroke="#333" stroke-width="0.55"/>
<line x1="29.1" y1="-2.5" x2="29.1" y2="-1" stroke="#333" stroke-width="0.55"/>
<line x1="32" y1="-3.9" x2="32" y2="3.9" stroke="#333" stroke-width="1.2"/>
<line x1="32" y1="0" x2="37" y2="0" stroke="#333" stroke-width="1.4"/>
<line x1="37" y1="-3.3" x2="37" y2="3.3" stroke="#333" stroke-width="1.5"/>
</g></g>
<g transform="translate(-47,341.6)">
<path d="M522.5,50.4 C533,48.6 543,46.4 549,46.8 C555,47.2 560,49 562,53 C563.4,56 563,58.4 562.4,60.3" fill="none" stroke="#b3817c" stroke-width="2.1" stroke-linecap="round"/>
<path d="M475.5,53.8 C477.5,52 481,51.6 484,52 L483.5,54 C480.5,54.6 478,54.6 475.5,53.8 Z" fill="#d5a3a0"/>
<path d="M501.5,53.8 C504,52 509,51.6 513.5,52 L513,54 C509,54.8 505,54.8 501.5,53.8 Z" fill="#d5a3a0"/>
<path d="M459.7,42.7 C460.8,38.2 464,33.6 467.6,31 C470,29 473,26.8 476,26.8 C479.5,26 482.6,25.4 485.2,25 C489,23 492,22.4 495.3,22.4 C502,22.4 508,24.5 512,28.8 C517,33 521,38 523.2,43 C524.6,47 524,50 521,51.6 C515,52.6 509,52.8 505.4,52.6 L484,52.6 C478,51.6 472,48.6 465,46.2 C462,45.2 459.5,44 459.7,42.7 Z" fill="#4a4949"/>
<path d="M484,52.6 C490,47 505,46 515,46.5 C519,46.8 522,47.6 523.6,48.4 C523.4,50 522.6,51 521,51.6 C515,52.6 509,52.8 505.4,52.6 Z" fill="#3c3b3b"/>
<ellipse cx="462.6" cy="43" rx="3.2" ry="2.6" fill="#b58a84"/>
<ellipse cx="472.8" cy="27.4" rx="2" ry="2" fill="#b88680"/>
<ellipse cx="479.4" cy="31" rx="3.1" ry="3.8" fill="#c08c88"/>
<ellipse cx="489.6" cy="33.4" rx="3.4" ry="1.4" fill="#7c605d"/>
<ellipse cx="480.4" cy="40.2" rx="2.3" ry="1.2" fill="#7c605d"/>
<ellipse cx="513.8" cy="47.6" rx="2.6" ry="1.1" fill="#7c605d"/>
<circle cx="468.4" cy="37.2" r="1" fill="#111"/>
</g>
<text x="54.4" y="414.4" font-size="12">2 months old</text>
<text x="212" y="414.4" font-size="12">13 months old</text>
<text x="417.6" y="414.4" font-size="12">18 months old</text>
<text x="139.6" y="358" font-size="12">Aging &amp;</text>
<text x="128.4" y="371" font-size="12">High fat diet</text>
<line x1="140" y1="378" x2="182" y2="378" stroke="#999" stroke-width="1.4"/>
<polygon points="181,374.4 189,378 181,381.6" fill="#000"/>
<text x="192" y="345" font-size="12">HHT (once/week)</text>
<text x="333.6" y="359" font-size="12">Aging &amp;</text>
<text x="322" y="371.4" font-size="12">High fat diet</text>
<line x1="313.6" y1="378" x2="394" y2="378" stroke="#999" stroke-width="1.4"/>
<polygon points="393,374.4 401,378 393,381.6" fill="#000"/>
<text x="332.4" y="394" font-size="12">Survival</text>
<text x="333.6" y="407" font-size="12">monitor</text>
<text x="498" y="370" font-size="12">Analysis</text>
<line x1="497" y1="376.6" x2="536" y2="376.6" stroke="#111" stroke-width="1.3"/>
<polygon points="535,373.2 542.6,376.6 535,380" fill="#000"/>
<rect x="551" y="338.6" width="100.2" height="68" rx="6.5" ry="6.5" fill="none" stroke="#3d5873" stroke-width="1.5"/>
<text x="569" y="356.4" font-size="12">Lymphoma</text>
<text x="569" y="370" font-size="12">Adipose &amp;</text>
<text x="569" y="383" font-size="12">other tissues</text>
<text x="569" y="397" font-size="12">Blood &amp; urine</text>
<circle cx="562.9" cy="352.5" r="1.55" fill="#111"/>
<circle cx="562.9" cy="366.1" r="1.55" fill="#111"/>
<circle cx="562.9" cy="393.1" r="1.55" fill="#111"/>
<text x="0.4" y="455.4" font-size="16">G</text>
<line x1="57.6" y1="448.6" x2="57.6" y2="585" stroke="#000" stroke-width="1.5"/>
<line x1="52.6" y1="584.4" x2="57.6" y2="584.4" stroke="#000" stroke-width="1.2"/>
<line x1="54.6" y1="572.1" x2="57.6" y2="572.1" stroke="#000" stroke-width="1.1"/>
<line x1="54.6" y1="559.8" x2="57.6" y2="559.8" stroke="#000" stroke-width="1.1"/>
<line x1="54.6" y1="547.5" x2="57.6" y2="547.5" stroke="#000" stroke-width="1.1"/>
<line x1="54.6" y1="535.2" x2="57.6" y2="535.2" stroke="#000" stroke-width="1.1"/>
<line x1="52.6" y1="522.9" x2="57.6" y2="522.9" stroke="#000" stroke-width="1.2"/>
<line x1="54.6" y1="510.6" x2="57.6" y2="510.6" stroke="#000" stroke-width="1.1"/>
<line x1="54.6" y1="498.3" x2="57.6" y2="498.3" stroke="#000" stroke-width="1.1"/>
<line x1="54.6" y1="486" x2="57.6" y2="486" stroke="#000" stroke-width="1.1"/>
<line x1="54.6" y1="473.7" x2="57.6" y2="473.7" stroke="#000" stroke-width="1.1"/>
<line x1="52.6" y1="461.4" x2="57.6" y2="461.4" stroke="#000" stroke-width="1.2"/>
<text x="50.2" y="465.4" font-size="11.2" text-anchor="end">100</text>
<text x="50.2" y="526.9" font-size="11.2" text-anchor="end">50</text>
<text x="50.2" y="588.4" font-size="11.2" text-anchor="end">0</text>
<line x1="56.9" y1="584.4" x2="192.4" y2="584.4" stroke="#000" stroke-width="1.5"/>
<line x1="57.6" y1="584.4" x2="57.6" y2="589" stroke="#000" stroke-width="1.2"/>
<line x1="62.09" y1="584.4" x2="62.09" y2="587" stroke="#000" stroke-width="0.9"/>
<line x1="66.59" y1="584.4" x2="66.59" y2="587" stroke="#000" stroke-width="0.9"/>
<line x1="71.08" y1="584.4" x2="71.08" y2="587" stroke="#000" stroke-width="0.9"/>
<line x1="75.57" y1="584.4" x2="75.57" y2="587" stroke="#000" stroke-width="0.9"/>
<line x1="80.07" y1="584.4" x2="80.07" y2="587" stroke="#000" stroke-width="0.9"/>
<line x1="84.56" y1="584.4" x2="84.56" y2="587" stroke="#000" stroke-width="0.9"/>
<line x1="89.05" y1="584.4" x2="89.05" y2="587" stroke="#000" stroke-width="0.9"/>
<line x1="93.55" y1="584.4" x2="93.55" y2="587" stroke="#000" stroke-width="0.9"/>
<line x1="98.04" y1="584.4" x2="98.04" y2="587" stroke="#000" stroke-width="0.9"/>
<line x1="102.53" y1="584.4" x2="102.53" y2="589" stroke="#000" stroke-width="1.2"/>
<line x1="107.03" y1="584.4" x2="107.03" y2="587" stroke="#000" stroke-width="0.9"/>
<line x1="111.52" y1="584.4" x2="111.52" y2="587" stroke="#000" stroke-width="0.9"/>
<line x1="116.01" y1="584.4" x2="116.01" y2="587" stroke="#000" stroke-width="0.9"/>
<line x1="120.51" y1="584.4" x2="120.51" y2="587" stroke="#000" stroke-width="0.9"/>
<line x1="125" y1="584.4" x2="125" y2="587" stroke="#000" stroke-width="0.9"/>
<line x1="129.49" y1="584.4" x2="129.49" y2="587" stroke="#000" stroke-width="0.9"/>
<line x1="133.99" y1="584.4" x2="133.99" y2="587" stroke="#000" stroke-width="0.9"/>
<line x1="138.48" y1="584.4" x2="138.48" y2="587" stroke="#000" stroke-width="0.9"/>
<line x1="142.97" y1="584.4" x2="142.97" y2="587" stroke="#000" stroke-width="0.9"/>
<line x1="147.47" y1="584.4" x2="147.47" y2="589" stroke="#000" stroke-width="1.2"/>
<line x1="151.96" y1="584.4" x2="151.96" y2="587" stroke="#000" stroke-width="0.9"/>
<line x1="156.45" y1="584.4" x2="156.45" y2="587" stroke="#000" stroke-width="0.9"/>
<line x1="160.95" y1="584.4" x2="160.95" y2="587" stroke="#000" stroke-width="0.9"/>
<line x1="165.44" y1="584.4" x2="165.44" y2="587" stroke="#000" stroke-width="0.9"/>
<line x1="169.93" y1="584.4" x2="169.93" y2="587" stroke="#000" stroke-width="0.9"/>
<line x1="174.43" y1="584.4" x2="174.43" y2="587" stroke="#000" stroke-width="0.9"/>
<line x1="178.92" y1="584.4" x2="178.92" y2="587" stroke="#000" stroke-width="0.9"/>
<line x1="183.41" y1="584.4" x2="183.41" y2="587" stroke="#000" stroke-width="0.9"/>
<line x1="187.91" y1="584.4" x2="187.91" y2="587" stroke="#000" stroke-width="0.9"/>
<line x1="192.4" y1="584.4" x2="192.4" y2="589" stroke="#000" stroke-width="1.2"/>
<text x="57.6" y="601.6" font-size="11.2" text-anchor="middle">0</text>
<text x="102.53" y="601.6" font-size="11.2" text-anchor="middle">200</text>
<text x="147.47" y="601.6" font-size="11.2" text-anchor="middle">400</text>
<text x="192.4" y="601.6" font-size="11.2" text-anchor="middle">600</text>
<text x="122.6" y="613.8" font-size="12" text-anchor="middle">Time (days)</text>
<text transform="translate(24.4,515.8) rotate(-90)" x="0" y="0" font-size="11.2" text-anchor="middle">Survival (%)</text>
<rect x="71" y="578.8" width="108.5" height="4.8" fill="#e08a3c" stroke="none" stroke-width="1"/>
<polygon points="178.5,577.6 184.2,581.2 178.5,584.8" fill="#e08a3c"/>
<text x="73" y="578" font-size="11.6">HF</text>
<rect x="143.6" y="572.8" width="36" height="3.8" fill="#000" stroke="none" stroke-width="1"/>
<polygon points="178.5,570.6 184.4,574.7 178.5,578.8" fill="#000"/>
<text x="141" y="571.6" font-size="11.6">HHT</text>
<path d="M57.6,461.4 H151 V476.77 H163 V492.15 H164.2 V507.52 H172 V538.27 H173.6 V553.65 H181.6 V569.02 H183.4 V567.23" fill="none" stroke="#1414f5" stroke-width="1.6"/>
<path d="M151,461.4 H175.4 V476.77 H181.6 V538.27 H183.4 V536.48" fill="none" stroke="#f52a2a" stroke-width="1.6"/>
<line x1="67" y1="530.4" x2="93" y2="530.4" stroke="#1414f5" stroke-width="2.6"/>
<line x1="67" y1="546" x2="93" y2="546" stroke="#f52a2a" stroke-width="2.6"/>
<text x="97.6" y="535" font-size="12">PBS (n=8)</text>
<text x="97.6" y="550.6" font-size="12">HHT (n=8)</text>
<path d="M183.8,538.27 H187.4 V569.02 H183.8 M187.4,553.65 H189.0" fill="none" stroke="#333" stroke-width="1"/>
<text x="191.6" y="557" font-size="10.7"><tspan font-style="italic">p</tspan>=0.0114</text>
<text x="267.8" y="454.9" font-size="16">H</text>
<text x="328.4" y="465" font-size="13.1">Weight loss</text>
<line x1="326.4" y1="473.8" x2="326.4" y2="580.8" stroke="#000" stroke-width="1.3"/>
<line x1="321.6" y1="580.2" x2="326.4" y2="580.2" stroke="#000" stroke-width="1.1"/>
<text x="320.6" y="584" font-size="10.8" text-anchor="end">-20</text>
<line x1="323.6" y1="566.97" x2="326.4" y2="566.97" stroke="#000" stroke-width="1"/>
<line x1="321.6" y1="553.75" x2="326.4" y2="553.75" stroke="#000" stroke-width="1.1"/>
<text x="320.6" y="557.55" font-size="10.8" text-anchor="end">-10</text>
<line x1="323.6" y1="540.52" x2="326.4" y2="540.52" stroke="#000" stroke-width="1"/>
<line x1="321.6" y1="527.3" x2="326.4" y2="527.3" stroke="#000" stroke-width="1.1"/>
<text x="320.6" y="531.1" font-size="10.8" text-anchor="end">0</text>
<line x1="323.6" y1="514.07" x2="326.4" y2="514.07" stroke="#000" stroke-width="1"/>
<line x1="321.6" y1="500.85" x2="326.4" y2="500.85" stroke="#000" stroke-width="1.1"/>
<text x="320.6" y="504.65" font-size="10.8" text-anchor="end">10</text>
<line x1="323.6" y1="487.62" x2="326.4" y2="487.62" stroke="#000" stroke-width="1"/>
<line x1="321.6" y1="474.4" x2="326.4" y2="474.4" stroke="#000" stroke-width="1.1"/>
<text x="320.6" y="478.2" font-size="10.8" text-anchor="end">20</text>
<line x1="326.4" y1="527.3" x2="397.2" y2="527.3" stroke="#000" stroke-width="1.3"/>
<line x1="326.4" y1="580.2" x2="397.2" y2="580.2" stroke="#000" stroke-width="1.3"/>
<line x1="347.7" y1="577.4" x2="347.7" y2="583" stroke="#000" stroke-width="1.1"/>
<line x1="380.2" y1="577.4" x2="380.2" y2="583" stroke="#000" stroke-width="1.1"/>
<rect x="337.1" y="522.8" width="21.1" height="4.5" fill="#97c4f5" stroke="#111" stroke-width="1.2"/>
<rect x="369.7" y="527.3" width="20.9" height="15.1" fill="#f29aa0" stroke="#111" stroke-width="1.2"/>
<line x1="347.7" y1="516.3" x2="347.7" y2="529.4" stroke="#111" stroke-width="1.1"/>
<line x1="342.5" y1="516.3" x2="352.9" y2="516.3" stroke="#111" stroke-width="1.1"/>
<line x1="342.5" y1="529.4" x2="352.9" y2="529.4" stroke="#111" stroke-width="1.1"/>
<line x1="380.2" y1="537.1" x2="380.2" y2="542.4" stroke="#111" stroke-width="1.1"/>
<line x1="374.9" y1="537.1" x2="385.5" y2="537.1" stroke="#111" stroke-width="1.1"/>
<line x1="380.2" y1="542.4" x2="380.2" y2="548.5" stroke="#999" stroke-width="1.1"/>
<line x1="374.9" y1="548.5" x2="385.5" y2="548.5" stroke="#999" stroke-width="1.1"/>
<circle cx="347.6" cy="498" r="1.6" fill="#000"/>
<circle cx="347.7" cy="507.9" r="1.6" fill="#000"/>
<circle cx="347.7" cy="513.3" r="1.6" fill="#000"/>
<circle cx="347.7" cy="520.1" r="1.6" fill="#000"/>
<circle cx="347.7" cy="524.5" r="1.6" fill="#000"/>
<circle cx="347.7" cy="529.4" r="1.6" fill="#000"/>
<circle cx="341.5" cy="543.8" r="1.6" fill="#000"/>
<circle cx="354.3" cy="542.9" r="1.6" fill="#000"/>
<circle cx="380.2" cy="521.9" r="1.6" fill="#000"/>
<circle cx="380.2" cy="530.7" r="1.6" fill="#000"/>
<circle cx="380.2" cy="534.7" r="1.6" fill="#000"/>
<circle cx="380.2" cy="538.9" r="1.6" fill="#000"/>
<circle cx="373.6" cy="544.7" r="1.6" fill="#000"/>
<circle cx="386.2" cy="544.7" r="1.6" fill="#000"/>
<circle cx="380.2" cy="552.6" r="1.6" fill="#000"/>
<circle cx="380.2" cy="574.5" r="1.6" fill="#000"/>
<path d="M347.4,493.6 V488.4 H380 V498" fill="none" stroke="#222" stroke-width="1.1"/>
<text x="342" y="483" font-size="10.2"><tspan font-style="italic">p</tspan>=0.0359</text>
<text x="347.7" y="594.6" font-size="11.6" text-anchor="middle">PBS</text>
<text x="380.2" y="594.6" font-size="11.6" text-anchor="middle">HHT</text>
<text transform="translate(297.8,524.7) rotate(-90)" x="0" y="0" font-size="11.85" text-anchor="middle">Body weight gain (g)</text>
<text x="467" y="454.9" font-size="16">I</text>
<text x="531.6" y="465" font-size="13.1">Body composition</text>
<line x1="517.6" y1="474.4" x2="517.6" y2="580.4" stroke="#000" stroke-width="1.3"/>
<line x1="512.8" y1="580.4" x2="517.6" y2="580.4" stroke="#000" stroke-width="1.1"/>
<text x="511.8" y="584.3" font-size="11.2" text-anchor="end">0</text>
<line x1="514.8" y1="568.6" x2="517.6" y2="568.6" stroke="#000" stroke-width="1"/>
<line x1="512.8" y1="556.8" x2="517.6" y2="556.8" stroke="#000" stroke-width="1.1"/>
<text x="511.8" y="560.7" font-size="11.2" text-anchor="end">10</text>
<line x1="514.8" y1="545" x2="517.6" y2="545" stroke="#000" stroke-width="1"/>
<line x1="512.8" y1="533.2" x2="517.6" y2="533.2" stroke="#000" stroke-width="1.1"/>
<text x="511.8" y="537.1" font-size="11.2" text-anchor="end">20</text>
<line x1="514.8" y1="521.4" x2="517.6" y2="521.4" stroke="#000" stroke-width="1"/>
<line x1="512.8" y1="509.6" x2="517.6" y2="509.6" stroke="#000" stroke-width="1.1"/>
<text x="511.8" y="513.5" font-size="11.2" text-anchor="end">30</text>
<line x1="514.8" y1="497.8" x2="517.6" y2="497.8" stroke="#000" stroke-width="1"/>
<line x1="512.8" y1="486" x2="517.6" y2="486" stroke="#000" stroke-width="1.1"/>
<text x="511.8" y="489.9" font-size="11.2" text-anchor="end">40</text>
<line x1="514.8" y1="474.2" x2="517.6" y2="474.2" stroke="#000" stroke-width="1"/>
<line x1="517.6" y1="580.4" x2="643" y2="580.4" stroke="#000" stroke-width="1.3"/>
<line x1="547.4" y1="580.4" x2="547.4" y2="583.9" stroke="#000" stroke-width="1.1"/>
<line x1="613" y1="580.4" x2="613" y2="583.9" stroke="#000" stroke-width="1.1"/>
<rect x="527" y="532" width="17.4" height="48.4" fill="#97c4f5" stroke="#111" stroke-width="1.2"/>
<rect x="550.4" y="544.4" width="17.6" height="36" fill="#f29aa0" stroke="#111" stroke-width="1.2"/>
<rect x="592.4" y="511" width="17.2" height="69.4" fill="#97c4f5" stroke="#111" stroke-width="1.2"/>
<rect x="616.2" y="510.4" width="17.2" height="70" fill="#f29aa0" stroke="#111" stroke-width="1.2"/>
<line x1="536" y1="526" x2="536" y2="537" stroke="#111" stroke-width="1.1"/>
<line x1="531.6" y1="526" x2="540.4" y2="526" stroke="#111" stroke-width="1.1"/>
<line x1="531.6" y1="537" x2="540.4" y2="537" stroke="#111" stroke-width="1.1"/>
<line x1="559.2" y1="540.4" x2="559.2" y2="548" stroke="#111" stroke-width="1.1"/>
<line x1="554.8" y1="540.4" x2="563.6" y2="540.4" stroke="#111" stroke-width="1.1"/>
<line x1="554.8" y1="548" x2="563.6" y2="548" stroke="#111" stroke-width="1.1"/>
<line x1="601" y1="507.6" x2="601" y2="514" stroke="#111" stroke-width="1.1"/>
<line x1="596.6" y1="507.6" x2="605.4" y2="507.6" stroke="#111" stroke-width="1.1"/>
<line x1="596.6" y1="514" x2="605.4" y2="514" stroke="#111" stroke-width="1.1"/>
<line x1="624.8" y1="508" x2="624.8" y2="512.6" stroke="#111" stroke-width="1.1"/>
<line x1="620.4" y1="508" x2="629.2" y2="508" stroke="#111" stroke-width="1.1"/>
<line x1="620.4" y1="512.6" x2="629.2" y2="512.6" stroke="#111" stroke-width="1.1"/>
<circle cx="528" cy="521.6" r="1.6" fill="#000"/>
<circle cx="535.6" cy="519.6" r="1.6" fill="#000"/>
<circle cx="543" cy="522" r="1.6" fill="#000"/>
<circle cx="536" cy="527" r="1.6" fill="#000"/>
<circle cx="528" cy="552.4" r="1.6" fill="#000"/>
<circle cx="543" cy="549.6" r="1.6" fill="#000"/>
<circle cx="559.4" cy="528" r="1.6" fill="#000"/>
<circle cx="551.6" cy="537.6" r="1.6" fill="#000"/>
<circle cx="567" cy="540" r="1.6" fill="#000"/>
<circle cx="552.4" cy="546.4" r="1.6" fill="#000"/>
<circle cx="560" cy="547" r="1.6" fill="#000"/>
<circle cx="567" cy="546.4" r="1.6" fill="#000"/>
<circle cx="559.4" cy="551" r="1.6" fill="#000"/>
<circle cx="559.4" cy="560.4" r="1.6" fill="#000"/>
<circle cx="593.6" cy="503.6" r="1.6" fill="#000"/>
<circle cx="601" cy="504" r="1.6" fill="#000"/>
<circle cx="608" cy="507.6" r="1.6" fill="#000"/>
<circle cx="593.6" cy="508" r="1.6" fill="#000"/>
<circle cx="601" cy="516.4" r="1.6" fill="#000"/>
<circle cx="601" cy="521" r="1.6" fill="#000"/>
<circle cx="608.4" cy="507.6" r="1.6" fill="#000"/>
<circle cx="632" cy="503" r="1.6" fill="#000"/>
<circle cx="616.8" cy="507.5" r="1.6" fill="#000"/>
<circle cx="624.8" cy="507.5" r="1.6" fill="#000"/>
<circle cx="632" cy="507.5" r="1.6" fill="#000"/>
<circle cx="616.8" cy="514.8" r="1.6" fill="#000"/>
<circle cx="624.8" cy="512.6" r="1.6" fill="#000"/>
<circle cx="632" cy="514" r="1.6" fill="#000"/>
<circle cx="624.8" cy="504.6" r="1.6" fill="#000"/>
<path d="M536,518 V513 H558.6 V518.4" fill="none" stroke="#222" stroke-width="1.1"/>
<text x="526" y="507" font-size="10.2"><tspan font-style="italic">p</tspan>=0.0296</text>
<rect x="538.4" y="481" width="10" height="9.4" fill="#a9cdee" stroke="#222" stroke-width="1.1"/>
<text x="554.4" y="489.6" font-size="11.6">PBS</text>
<rect x="590.1" y="481" width="10" height="9.4" fill="#f2828a" stroke="#222" stroke-width="1.1"/>
<text x="605.6" y="489.6" font-size="11.6">HHT</text>
<text x="547.4" y="594" font-size="11.6" text-anchor="middle">Fat mass</text>
<text x="613" y="594" font-size="11.6" text-anchor="middle">Lean mass</text>
<text transform="translate(492.2,525) rotate(-90)" x="0" y="0" font-size="11.8" text-anchor="middle">Body weght (g)</text>
<defs>
<linearGradient id="jetg" x1="0" y1="1" x2="0" y2="0">
<stop offset="0.0" stop-color="#0000b2"/>
<stop offset="0.1" stop-color="#0011ff"/>
<stop offset="0.2" stop-color="#006fff"/>
<stop offset="0.3" stop-color="#00cdff"/>
<stop offset="0.4" stop-color="#2bffd3"/>
<stop offset="0.5" stop-color="#89ff75"/>
<stop offset="0.6" stop-color="#e7ff17"/>
<stop offset="0.7" stop-color="#ffb800"/>
<stop offset="0.8" stop-color="#ff5a00"/>
<stop offset="0.9" stop-color="#fb0000"/>
<stop offset="1.0" stop-color="#9e0000"/>
</linearGradient>
<filter id="mblur" x="-10%" y="-10%" width="120%" height="120%"><feGaussianBlur stdDeviation="0.9"/></filter>
<mask id="tmask" maskUnits="userSpaceOnUse" x="0" y="0" width="85" height="85"><g filter="url(#mblur)">
<ellipse cx="35.5" cy="42.5" rx="21.5" ry="25.5" fill="#fff"/>
<ellipse cx="21" cy="44.5" rx="13.5" ry="15.6" fill="#fff"/>
<ellipse cx="30" cy="19" rx="8.6" ry="9" fill="#fff"/>
<ellipse cx="44.5" cy="30" rx="12" ry="13" fill="#fff"/>
<ellipse cx="42" cy="56" rx="12" ry="13.8" fill="#fff"/>
<ellipse cx="59" cy="18" rx="13" ry="3.8" fill="#fff" transform="rotate(40 59 18)"/>
<ellipse cx="67" cy="38.5" rx="7.5" ry="8.4" fill="#fff"/>
<ellipse cx="61" cy="62.5" rx="16.5" ry="4" fill="#fff" transform="rotate(-53 61 62.5)"/>
<ellipse cx="14.5" cy="20" rx="5.2" ry="3.6" fill="#fff" transform="rotate(-35 14.5 20)"/>
<ellipse cx="18.5" cy="67" rx="4.8" ry="4.1" fill="#fff"/>
<ellipse cx="41.5" cy="75.5" rx="3.6" ry="1.5" fill="#fff" transform="rotate(-20 41.5 75.5)"/>
<ellipse cx="72" cy="27.5" rx="3.4" ry="1.3" fill="#fff" transform="rotate(35 72 27.5)"/>
</g></mask>
<filter id="speck0" x="-5%" y="-5%" width="110%" height="110%" color-interpolation-filters="sRGB"><feGaussianBlur in="SourceGraphic" stdDeviation="2.6" result="b"/><feTurbulence type="fractalNoise" baseFrequency="1.4" numOctaves="2" seed="3" result="n"/><feColorMatrix in="n" type="matrix" values="0 0 0 0 0  0 0 0 0 0  0 0 0 0 0  -4.2 0 0 0 2.55" result="m"/><feComposite in="b" in2="m" operator="in" result="c"/><feGaussianBlur in="c" stdDeviation="0.3"/></filter>
<filter id="speck1" x="-5%" y="-5%" width="110%" height="110%" color-interpolation-filters="sRGB"><feGaussianBlur in="SourceGraphic" stdDeviation="2.6" result="b"/><feTurbulence type="fractalNoise" baseFrequency="1.4" numOctaves="2" seed="10" result="n"/><feColorMatrix in="n" type="matrix" values="0 0 0 0 0  0 0 0 0 0  0 0 0 0 0  -4.2 0 0 0 2.55" result="m"/><feComposite in="b" in2="m" operator="in" result="c"/><feGaussianBlur in="c" stdDeviation="0.3"/></filter>
<filter id="speck2" x="-5%" y="-5%" width="110%" height="110%" color-interpolation-filters="sRGB"><feGaussianBlur in="SourceGraphic" stdDeviation="2.6" result="b"/><feTurbulence type="fractalNoise" baseFrequency="1.4" numOctaves="2" seed="17" result="n"/><feColorMatrix in="n" type="matrix" values="0 0 0 0 0  0 0 0 0 0  0 0 0 0 0  -4.2 0 0 0 2.55" result="m"/><feComposite in="b" in2="m" operator="in" result="c"/><feGaussianBlur in="c" stdDeviation="0.3"/></filter>
<filter id="speck3" x="-5%" y="-5%" width="110%" height="110%" color-interpolation-filters="sRGB"><feGaussianBlur in="SourceGraphic" stdDeviation="2.6" result="b"/><feTurbulence type="fractalNoise" baseFrequency="1.4" numOctaves="2" seed="24" result="n"/><feColorMatrix in="n" type="matrix" values="0 0 0 0 0  0 0 0 0 0  0 0 0 0 0  -4.2 0 0 0 2.55" result="m"/><feComposite in="b" in2="m" operator="in" result="c"/><feGaussianBlur in="c" stdDeviation="0.3"/></filter>
</defs>
<text x="1.6" y="654" font-size="15.5">J</text>
<text x="146.6" y="643.4" font-size="13.5">CD45(-) Pdgfr<tspan font-family="Liberation Serif" font-style="italic">α</tspan> (+) APCs</text>
<line x1="27.6" y1="649" x2="425.6" y2="649" stroke="#888" stroke-width="1.4"/>
<text x="41" y="665" font-size="13.2">Pdgfr<tspan font-family="Liberation Serif" font-style="italic">α</tspan>+</text>
<text x="174.2" y="664.4" font-size="13.2" text-anchor="middle">ICAM-1</text>
<text x="280.5" y="664.4" font-size="13.2" text-anchor="middle">CD142</text>
<text x="390.8" y="664.4" font-size="13.2" text-anchor="middle">DPP4</text>
<g transform="translate(17.6,671.6)">
<g mask="url(#tmask)"><g filter="url(#speck0)">
<ellipse cx="33" cy="42" rx="28" ry="32" fill="#ffb200"/>
<circle cx="20" cy="45" r="15" fill="#ff0500"/>
<circle cx="30" cy="38" r="8" fill="#ff4c00"/>
<circle cx="29" cy="19" r="9" fill="#ff1900"/>
<circle cx="37" cy="22" r="5" fill="#ffb200"/>
<circle cx="41" cy="36" r="8" fill="#d1ff2d"/>
<circle cx="50" cy="27" r="8" fill="#2dffd1"/>
<circle cx="52" cy="42" r="6" fill="#7fff7f"/>
<circle cx="38" cy="59" r="10" fill="#ff8900"/>
<circle cx="48" cy="52" r="7" fill="#ffef00"/>
<circle cx="58.5" cy="18" r="9" fill="#0000f9"/>
<circle cx="67" cy="38.5" r="9" fill="#0000d1"/>
<circle cx="61.8" cy="62.5" r="10" fill="#0023ff"/>
<circle cx="14.5" cy="20" r="5" fill="#00b2ff"/>
<circle cx="18.5" cy="67" r="5" fill="#ff0f00"/>
<circle cx="41.5" cy="75.5" r="4" fill="#004cff"/>
<circle cx="72" cy="27.5" r="3" fill="#0000f9"/>
</g></g>
<rect x="0" y="0" width="84.8" height="84.8" fill="none" stroke="#777" stroke-width="0.9"/>
<rect x="84.8" y="0.2" width="4" height="84.4" fill="url(#jetg)"/>
<line x1="88.8" y1="84.4" x2="90" y2="84.4" stroke="#888" stroke-width="0.4"/>
<text x="90.6" y="85.6" font-size="3.4" fill="#666">0</text>
<line x1="88.8" y1="63.3" x2="90" y2="63.3" stroke="#888" stroke-width="0.4"/>
<text x="90.6" y="64.5" font-size="3.4" fill="#666">6</text>
<line x1="88.8" y1="42.2" x2="90" y2="42.2" stroke="#888" stroke-width="0.4"/>
<text x="90.6" y="43.4" font-size="3.4" fill="#666">33</text>
<line x1="88.8" y1="21.1" x2="90" y2="21.1" stroke="#888" stroke-width="0.4"/>
<text x="90.6" y="22.3" font-size="3.4" fill="#666">129</text>
<line x1="88.8" y1="0" x2="90" y2="0" stroke="#888" stroke-width="0.4"/>
<text x="90.6" y="1.2" font-size="3.4" fill="#666">408</text>
</g>
<g transform="translate(17.6,758.4)">
<g mask="url(#tmask)"><g filter="url(#speck1)">
<ellipse cx="33" cy="42" rx="28" ry="32" fill="#ffc600"/>
<circle cx="20" cy="45" r="15" fill="#ff0f00"/>
<circle cx="30" cy="40" r="8" fill="#ff6000"/>
<circle cx="29" cy="19" r="9" fill="#ff2d00"/>
<circle cx="37" cy="22" r="5" fill="#ffdb00"/>
<circle cx="41" cy="36" r="8" fill="#b2ff4c"/>
<circle cx="50" cy="28" r="9" fill="#19ffe5"/>
<circle cx="52" cy="42" r="6" fill="#4cffb2"/>
<circle cx="38" cy="59" r="10" fill="#ff9e00"/>
<circle cx="48" cy="52" r="7" fill="#e5ff19"/>
<circle cx="58.5" cy="18" r="9" fill="#0000f9"/>
<circle cx="67" cy="38.5" r="9" fill="#0000d1"/>
<circle cx="61.8" cy="62.5" r="10" fill="#0023ff"/>
<circle cx="14.5" cy="20" r="5" fill="#007fff"/>
<circle cx="18.5" cy="67" r="5" fill="#ff1900"/>
<circle cx="41.5" cy="75.5" r="4" fill="#004cff"/>
<circle cx="72" cy="27.5" r="3" fill="#0000f9"/>
</g></g>
<rect x="0" y="0" width="84.8" height="84.8" fill="none" stroke="#777" stroke-width="0.9"/>
<rect x="84.8" y="0.2" width="4" height="84.4" fill="url(#jetg)"/>
<line x1="88.8" y1="84.4" x2="90" y2="84.4" stroke="#888" stroke-width="0.4"/>
<text x="90.6" y="85.6" font-size="3.4" fill="#666">0</text>
<line x1="88.8" y1="63.3" x2="90" y2="63.3" stroke="#888" stroke-width="0.4"/>
<text x="90.6" y="64.5" font-size="3.4" fill="#666">6</text>
<line x1="88.8" y1="42.2" x2="90" y2="42.2" stroke="#888" stroke-width="0.4"/>
<text x="90.6" y="43.4" font-size="3.4" fill="#666">33</text>
<line x1="88.8" y1="21.1" x2="90" y2="21.1" stroke="#888" stroke-width="0.4"/>
<text x="90.6" y="22.3" font-size="3.4" fill="#666">129</text>
<line x1="88.8" y1="0" x2="90" y2="0" stroke="#888" stroke-width="0.4"/>
<text x="90.6" y="1.2" font-size="3.4" fill="#666">408</text>
</g>
<g transform="translate(127.8,671.6)">
<g mask="url(#tmask)"><g filter="url(#speck2)">
<ellipse cx="33" cy="42" rx="28" ry="32" fill="#e5ff19"/>
<circle cx="18" cy="46" r="14" fill="#ff2300"/>
<circle cx="13" cy="57" r="6" fill="#e50000"/>
<circle cx="28" cy="44" r="8" fill="#ff9e00"/>
<circle cx="25" cy="15" r="6" fill="#ff3800"/>
<circle cx="35" cy="19" r="5" fill="#05fff9"/>
<circle cx="34" cy="31" r="5" fill="#e50000"/>
<circle cx="38" cy="37" r="4" fill="#f90000"/>
<circle cx="50" cy="30" r="9" fill="#4cffb2"/>
<circle cx="40" cy="57" r="10" fill="#bcff42"/>
<circle cx="50" cy="52" r="6" fill="#19ffe5"/>
<circle cx="58.5" cy="18" r="9" fill="#0000f9"/>
<circle cx="67" cy="38.5" r="9" fill="#00b2ff"/>
<circle cx="61.8" cy="62.5" r="10" fill="#00efff"/>
<circle cx="14.5" cy="20" r="5" fill="#ff4c00"/>
<circle cx="18.5" cy="67" r="5" fill="#f90000"/>
<circle cx="41.5" cy="75.5" r="4" fill="#ff1900"/>
<circle cx="72" cy="27.5" r="3" fill="#7fff7f"/>
</g></g>
<rect x="0" y="0" width="84.8" height="84.8" fill="none" stroke="#777" stroke-width="0.9"/>
<rect x="84.8" y="0.2" width="4" height="84.4" fill="url(#jetg)"/>
<line x1="88.8" y1="84.4" x2="90" y2="84.4" stroke="#888" stroke-width="0.4"/>
<text x="90.6" y="85.6" font-size="3.4" fill="#666">7</text>
<line x1="88.8" y1="63.3" x2="90" y2="63.3" stroke="#888" stroke-width="0.4"/>
<text x="90.6" y="64.5" font-size="3.4" fill="#666">32</text>
<line x1="88.8" y1="42.2" x2="90" y2="42.2" stroke="#888" stroke-width="0.4"/>
<text x="90.6" y="43.4" font-size="3.4" fill="#666">131</text>
<line x1="88.8" y1="21.1" x2="90" y2="21.1" stroke="#888" stroke-width="0.4"/>
<text x="90.6" y="22.3" font-size="3.4" fill="#666">544</text>
<line x1="88.8" y1="0" x2="90" y2="0" stroke="#888" stroke-width="0.4"/>
<text x="90.6" y="1.2" font-size="3.4" fill="#666">2262</text>
</g>
<g transform="translate(127.8,758.4)">
<g mask="url(#tmask)"><g filter="url(#speck3)">
<ellipse cx="33" cy="42" rx="28" ry="32" fill="#e5ff19"/>
<circle cx="18" cy="46" r="14" fill="#ff2300"/>
<circle cx="13" cy="57" r="6" fill="#f90000"/>
<circle cx="28" cy="44" r="8" fill="#ffb200"/>
<circle cx="25" cy="15" r="6" fill="#ff4c00"/>
<circle cx="35" cy="19" r="5" fill="#00efff"/>
<circle cx="34" cy="31" r="5" fill="#e50000"/>
<circle cx="38" cy="37" r="4" fill="#ff0f00"/>
<circle cx="50" cy="31" r="8" fill="#2dffd1"/>
<circle cx="47" cy="20" r="5" fill="#0019ff"/>
<circle cx="54" cy="46" r="4" fill="#0060ff"/>
<circle cx="40" cy="57" r="10" fill="#b2ff4c"/>
<circle cx="50" cy="52" r="6" fill="#05fff9"/>
<circle cx="58.5" cy="18" r="9" fill="#0000f9"/>
<circle cx="67" cy="38.5" r="9" fill="#00b2ff"/>
<circle cx="61.8" cy="62.5" r="10" fill="#00b2ff"/>
<circle cx="14.5" cy="20" r="5" fill="#ffb200"/>
<circle cx="18.5" cy="67" r="5" fill="#e50000"/>
<circle cx="41.5" cy="75.5" r="4" fill="#ff1900"/>
<circle cx="72" cy="27.5" r="3" fill="#b2ff4c"/>
</g></g>
<rect x="0" y="0" width="84.8" height="84.8" fill="none" stroke="#777" stroke-width="0.9"/>
<rect x="84.8" y="0.2" width="4" height="84.4" fill="url(#jetg)"/>
<line x1="88.8" y1="84.4" x2="90" y2="84.4" stroke="#888" stroke-width="0.4"/>
<text x="90.6" y="85.6" font-size="3.4" fill="#666">7</text>
<line x1="88.8" y1="63.3" x2="90" y2="63.3" stroke="#888" stroke-width="0.4"/>
<text x="90.6" y="64.5" font-size="3.4" fill="#666">32</text>
<line x1="88.8" y1="42.2" x2="90" y2="42.2" stroke="#888" stroke-width="0.4"/>
<text x="90.6" y="43.4" font-size="3.4" fill="#666">131</text>
<line x1="88.8" y1="21.1" x2="90" y2="21.1" stroke="#888" stroke-width="0.4"/>
<text x="90.6" y="22.3" font-size="3.4" fill="#666">544</text>
<line x1="88.8" y1="0" x2="90" y2="0" stroke="#888" stroke-width="0.4"/>
<text x="90.6" y="1.2" font-size="3.4" fill="#666">2262</text>
</g>
<g transform="translate(238.6,671.6)">
<g mask="url(#tmask)"><g filter="url(#speck0)">
<ellipse cx="33" cy="42" rx="28" ry="32" fill="#b2ff4c"/>
<circle cx="15" cy="48" r="11" fill="#ff4c00"/>
<circle cx="13" cy="56" r="6" fill="#e50000"/>
<circle cx="25" cy="42" r="8" fill="#ffdb00"/>
<circle cx="28" cy="18" r="8" fill="#d1ff2d"/>
<circle cx="36" cy="20" r="5" fill="#7fff7f"/>
<circle cx="33" cy="33" r="4" fill="#ff8900"/>
<circle cx="46" cy="32" r="10" fill="#42ffbc"/>
<circle cx="51" cy="34" r="5" fill="#007fff"/>
<circle cx="40" cy="58" r="10" fill="#bcff42"/>
<circle cx="50" cy="52" r="7" fill="#2dffd1"/>
<circle cx="58.5" cy="18" r="9" fill="#0019ff"/>
<circle cx="67" cy="38.5" r="9" fill="#00b2ff"/>
<circle cx="61.8" cy="62.5" r="10" fill="#05fff9"/>
<circle cx="14.5" cy="20" r="5" fill="#ff8900"/>
<circle cx="18.5" cy="67" r="5" fill="#d10000"/>
<circle cx="41.5" cy="75.5" r="4" fill="#19ffe5"/>
<circle cx="72" cy="27.5" r="3" fill="#0019ff"/>
</g></g>
<rect x="0" y="0" width="84.8" height="84.8" fill="none" stroke="#777" stroke-width="0.9"/>
<rect x="84.8" y="0.2" width="4" height="84.4" fill="url(#jetg)"/>
<line x1="88.8" y1="84.4" x2="90" y2="84.4" stroke="#888" stroke-width="0.4"/>
<text x="90.6" y="85.6" font-size="3.4" fill="#666">6</text>
<line x1="88.8" y1="63.3" x2="90" y2="63.3" stroke="#888" stroke-width="0.4"/>
<text x="90.6" y="64.5" font-size="3.4" fill="#666">38</text>
<line x1="88.8" y1="42.2" x2="90" y2="42.2" stroke="#888" stroke-width="0.4"/>
<text x="90.6" y="43.4" font-size="3.4" fill="#666">165</text>
<line x1="88.8" y1="21.1" x2="90" y2="21.1" stroke="#888" stroke-width="0.4"/>
<text x="90.6" y="22.3" font-size="3.4" fill="#666">711</text>
<line x1="88.8" y1="0" x2="90" y2="0" stroke="#888" stroke-width="0.4"/>
<text x="90.6" y="1.2" font-size="3.4" fill="#666">3060</text>
</g>
<g transform="translate(238.6,758.4)">
<g mask="url(#tmask)"><g filter="url(#speck1)">
<ellipse cx="33" cy="42" rx="28" ry="32" fill="#93ff6b"/>
<circle cx="15" cy="48" r="11" fill="#ff8900"/>
<circle cx="11" cy="52" r="6" fill="#ff2300"/>
<circle cx="25" cy="42" r="8" fill="#e5ff19"/>
<circle cx="28" cy="18" r="8" fill="#b2ff4c"/>
<circle cx="37" cy="20" r="5" fill="#00b2ff"/>
<circle cx="33" cy="33" r="4" fill="#ffb200"/>
<circle cx="44" cy="34" r="9" fill="#2dffd1"/>
<circle cx="50" cy="26" r="6" fill="#0019ff"/>
<circle cx="53" cy="40" r="5" fill="#004cff"/>
<circle cx="40" cy="58" r="10" fill="#b2ff4c"/>
<circle cx="50" cy="52" r="7" fill="#05fff9"/>
<circle cx="58.5" cy="18" r="9" fill="#0019ff"/>
<circle cx="67" cy="38.5" r="9" fill="#00c6ff"/>
<circle cx="61.8" cy="62.5" r="10" fill="#00efff"/>
<circle cx="14.5" cy="20" r="5" fill="#e5ff19"/>
<circle cx="18.5" cy="67" r="5" fill="#d10000"/>
<circle cx="41.5" cy="75.5" r="4" fill="#05fff9"/>
<circle cx="72" cy="27.5" r="3" fill="#0019ff"/>
</g></g>
<rect x="0" y="0" width="84.8" height="84.8" fill="none" stroke="#777" stroke-width="0.9"/>
<rect x="84.8" y="0.2" width="4" height="84.4" fill="url(#jetg)"/>
<line x1="88.8" y1="84.4" x2="90" y2="84.4" stroke="#888" stroke-width="0.4"/>
<text x="90.6" y="85.6" font-size="3.4" fill="#666">6</text>
<line x1="88.8" y1="63.3" x2="90" y2="63.3" stroke="#888" stroke-width="0.4"/>
<text x="90.6" y="64.5" font-size="3.4" fill="#666">38</text>
<line x1="88.8" y1="42.2" x2="90" y2="42.2" stroke="#888" stroke-width="0.4"/>
<text x="90.6" y="43.4" font-size="3.4" fill="#666">165</text>
<line x1="88.8" y1="21.1" x2="90" y2="21.1" stroke="#888" stroke-width="0.4"/>
<text x="90.6" y="22.3" font-size="3.4" fill="#666">711</text>
<line x1="88.8" y1="0" x2="90" y2="0" stroke="#888" stroke-width="0.4"/>
<text x="90.6" y="1.2" font-size="3.4" fill="#666">3060</text>
</g>
<g transform="translate(348.6,671.6)">
<g mask="url(#tmask)"><g filter="url(#speck2)">
<ellipse cx="33" cy="42" rx="28" ry="32" fill="#0019ff"/>
<circle cx="18" cy="46" r="13" fill="#0060ff"/>
<circle cx="10" cy="48" r="5" fill="#00efff"/>
<circle cx="12" cy="56" r="4" fill="#19ffe5"/>
<circle cx="29" cy="14" r="8" fill="#f90000"/>
<circle cx="30" cy="22" r="6" fill="#ffdb00"/>
<circle cx="31" cy="26.5" r="4" fill="#7fff7f"/>
<circle cx="42" cy="33" r="12" fill="#0005ff"/>
<circle cx="40" cy="56" r="12" fill="#0000f9"/>
<circle cx="30" cy="50" r="5" fill="#00b2ff"/>
<circle cx="22" cy="36" r="5" fill="#00b2ff"/>
<circle cx="58.5" cy="18" r="9" fill="#0000f9"/>
<circle cx="67" cy="38.5" r="9" fill="#0000e5"/>
<circle cx="61.8" cy="62.5" r="10" fill="#0000f9"/>
<circle cx="14.5" cy="20" r="5" fill="#b20000"/>
<circle cx="18.5" cy="67" r="5" fill="#2dffd1"/>
<circle cx="41.5" cy="75.5" r="4" fill="#19ffe5"/>
<circle cx="72" cy="27.5" r="3" fill="#0000f9"/>
</g></g>
<rect x="0" y="0" width="84.8" height="84.8" fill="none" stroke="#777" stroke-width="0.9"/>
<rect x="84.8" y="0.2" width="4" height="84.4" fill="url(#jetg)"/>
<line x1="88.8" y1="84.4" x2="90" y2="84.4" stroke="#888" stroke-width="0.4"/>
<text x="90.6" y="85.6" font-size="3.4" fill="#666">0</text>
<line x1="88.8" y1="63.3" x2="90" y2="63.3" stroke="#888" stroke-width="0.4"/>
<text x="90.6" y="64.5" font-size="3.4" fill="#666">6</text>
<line x1="88.8" y1="42.2" x2="90" y2="42.2" stroke="#888" stroke-width="0.4"/>
<text x="90.6" y="43.4" font-size="3.4" fill="#666">17</text>
<line x1="88.8" y1="21.1" x2="90" y2="21.1" stroke="#888" stroke-width="0.4"/>
<text x="90.6" y="22.3" font-size="3.4" fill="#666">46</text>
<line x1="88.8" y1="0" x2="90" y2="0" stroke="#888" stroke-width="0.4"/>
<text x="90.6" y="1.2" font-size="3.4" fill="#666">122</text>
</g>
<g transform="translate(348.6,758.4)">
<g mask="url(#tmask)"><g filter="url(#speck3)">
<ellipse cx="33" cy="42" rx="28" ry="32" fill="#000fff"/>
<circle cx="18" cy="46" r="13" fill="#004cff"/>
<circle cx="10" cy="48" r="5" fill="#00dbff"/>
<circle cx="12" cy="56" r="4" fill="#05fff9"/>
<circle cx="29" cy="14" r="8" fill="#f90000"/>
<circle cx="30" cy="22" r="6" fill="#ffef00"/>
<circle cx="31" cy="26.5" r="4" fill="#7fff7f"/>
<circle cx="42" cy="33" r="12" fill="#0000f9"/>
<circle cx="40" cy="56" r="12" fill="#0000f9"/>
<circle cx="30" cy="50" r="5" fill="#009eff"/>
<circle cx="22" cy="36" r="5" fill="#00b2ff"/>
<circle cx="58.5" cy="18" r="9" fill="#0000f9"/>
<circle cx="67" cy="38.5" r="9" fill="#0000e5"/>
<circle cx="61.8" cy="62.5" r="10" fill="#0000f9"/>
<circle cx="14.5" cy="20" r="5" fill="#9e0000"/>
<circle cx="18.5" cy="67" r="5" fill="#2dffd1"/>
<circle cx="41.5" cy="75.5" r="4" fill="#19ffe5"/>
<circle cx="72" cy="27.5" r="3" fill="#0000f9"/>
</g></g>
<rect x="0" y="0" width="84.8" height="84.8" fill="none" stroke="#777" stroke-width="0.9"/>
<rect x="84.8" y="0.2" width="4" height="84.4" fill="url(#jetg)"/>
<line x1="88.8" y1="84.4" x2="90" y2="84.4" stroke="#888" stroke-width="0.4"/>
<text x="90.6" y="85.6" font-size="3.4" fill="#666">0</text>
<line x1="88.8" y1="63.3" x2="90" y2="63.3" stroke="#888" stroke-width="0.4"/>
<text x="90.6" y="64.5" font-size="3.4" fill="#666">6</text>
<line x1="88.8" y1="42.2" x2="90" y2="42.2" stroke="#888" stroke-width="0.4"/>
<text x="90.6" y="43.4" font-size="3.4" fill="#666">17</text>
<line x1="88.8" y1="21.1" x2="90" y2="21.1" stroke="#888" stroke-width="0.4"/>
<text x="90.6" y="22.3" font-size="3.4" fill="#666">46</text>
<line x1="88.8" y1="0" x2="90" y2="0" stroke="#888" stroke-width="0.4"/>
<text x="90.6" y="1.2" font-size="3.4" fill="#666">122</text>
</g>
<text transform="translate(12,711.3) rotate(-90)" x="0" y="0" font-size="12.3" text-anchor="middle">PBS</text>
<text transform="translate(12,790.5) rotate(-90)" x="0" y="0" font-size="12.3" text-anchor="middle">HHT</text>
<line x1="13.2" y1="821" x2="13.2" y2="801.5" stroke="#666" stroke-width="0.8"/>
<polygon points="11.6,802 13.2,798.6 14.8,802" fill="#666"/>
<text transform="translate(14.8,834.5) rotate(-90)" font-size="4.6" text-anchor="middle" fill="#777">tSNE2</text>
<text x="60.6" y="849.6" font-size="4.6" text-anchor="middle" fill="#777">tSNE1</text>
<line x1="123.4" y1="821" x2="123.4" y2="801.5" stroke="#666" stroke-width="0.8"/>
<polygon points="121.8,802 123.4,798.6 125,802" fill="#666"/>
<text transform="translate(125,834.5) rotate(-90)" font-size="4.6" text-anchor="middle" fill="#777">tSNE2</text>
<text x="170.8" y="849.6" font-size="4.6" text-anchor="middle" fill="#777">tSNE1</text>
<line x1="234.2" y1="821" x2="234.2" y2="801.5" stroke="#666" stroke-width="0.8"/>
<polygon points="232.6,802 234.2,798.6 235.8,802" fill="#666"/>
<text transform="translate(235.8,834.5) rotate(-90)" font-size="4.6" text-anchor="middle" fill="#777">tSNE2</text>
<text x="281.6" y="849.6" font-size="4.6" text-anchor="middle" fill="#777">tSNE1</text>
<line x1="344.2" y1="821" x2="344.2" y2="801.5" stroke="#666" stroke-width="0.8"/>
<polygon points="342.6,802 344.2,798.6 345.8,802" fill="#666"/>
<text transform="translate(345.8,834.5) rotate(-90)" font-size="4.6" text-anchor="middle" fill="#777">tSNE2</text>
<text x="391.6" y="849.6" font-size="4.6" text-anchor="middle" fill="#777">tSNE1</text>
<text x="456" y="653.6" font-size="16">K</text>
<text x="542.4" y="669" font-size="12.4">pWAT APCs</text>
<line x1="542.4" y1="671.4" x2="609.6" y2="671.4" stroke="#333" stroke-width="0.9"/>
<line x1="496.1" y1="694.9" x2="496.1" y2="789.3" stroke="#000" stroke-width="1.3"/>
<line x1="491.5" y1="789.3" x2="496.1" y2="789.3" stroke="#000" stroke-width="1.1"/>
<text x="490.1" y="793.4" font-size="11.6" text-anchor="end">0</text>
<line x1="493.3" y1="777.57" x2="496.1" y2="777.57" stroke="#000" stroke-width="1"/>
<line x1="491.5" y1="765.85" x2="496.1" y2="765.85" stroke="#000" stroke-width="1.1"/>
<text x="490.1" y="769.95" font-size="11.6" text-anchor="end">20</text>
<line x1="493.3" y1="754.12" x2="496.1" y2="754.12" stroke="#000" stroke-width="1"/>
<line x1="491.5" y1="742.4" x2="496.1" y2="742.4" stroke="#000" stroke-width="1.1"/>
<text x="490.1" y="746.5" font-size="11.6" text-anchor="end">40</text>
<line x1="493.3" y1="730.67" x2="496.1" y2="730.67" stroke="#000" stroke-width="1"/>
<line x1="491.5" y1="718.95" x2="496.1" y2="718.95" stroke="#000" stroke-width="1.1"/>
<text x="490.1" y="723.05" font-size="11.6" text-anchor="end">60</text>
<line x1="493.3" y1="707.22" x2="496.1" y2="707.22" stroke="#000" stroke-width="1"/>
<line x1="491.5" y1="695.5" x2="496.1" y2="695.5" stroke="#000" stroke-width="1.1"/>
<text x="490.1" y="699.6" font-size="11.6" text-anchor="end">80</text>
<line x1="496.1" y1="789.3" x2="685" y2="789.3" stroke="#000" stroke-width="1.3"/>
<rect x="500.2" y="752.01" width="12.4" height="37.29" fill="#97c4f5" stroke="#111" stroke-width="1.2"/>
<rect x="516" y="769.95" width="12.4" height="19.35" fill="#f29aa0" stroke="#111" stroke-width="1.2"/>
<line x1="506.4" y1="749.9" x2="506.4" y2="754.36" stroke="#111" stroke-width="1.1"/>
<line x1="503" y1="749.9" x2="509.8" y2="749.9" stroke="#111" stroke-width="1.1"/>
<line x1="503" y1="754.36" x2="509.8" y2="754.36" stroke="#111" stroke-width="1.1"/>
<line x1="522.2" y1="768.43" x2="522.2" y2="771.48" stroke="#111" stroke-width="1.1"/>
<line x1="518.8" y1="768.43" x2="525.6" y2="768.43" stroke="#111" stroke-width="1.1"/>
<line x1="518.8" y1="771.48" x2="525.6" y2="771.48" stroke="#111" stroke-width="1.1"/>
<line x1="514.3" y1="789.3" x2="514.3" y2="792.9" stroke="#000" stroke-width="1.1"/>
<rect x="538" y="744.28" width="12.4" height="45.02" fill="#97c4f5" stroke="#111" stroke-width="1.2"/>
<rect x="553.8" y="756" width="12.4" height="33.3" fill="#f29aa0" stroke="#111" stroke-width="1.2"/>
<line x1="544.2" y1="739.23" x2="544.2" y2="749.08" stroke="#111" stroke-width="1.1"/>
<line x1="540.8" y1="739.23" x2="547.6" y2="739.23" stroke="#111" stroke-width="1.1"/>
<line x1="540.8" y1="749.08" x2="547.6" y2="749.08" stroke="#111" stroke-width="1.1"/>
<line x1="560" y1="752.6" x2="560" y2="758.58" stroke="#111" stroke-width="1.1"/>
<line x1="556.6" y1="752.6" x2="563.4" y2="752.6" stroke="#111" stroke-width="1.1"/>
<line x1="556.6" y1="758.58" x2="563.4" y2="758.58" stroke="#111" stroke-width="1.1"/>
<line x1="552.1" y1="789.3" x2="552.1" y2="792.9" stroke="#000" stroke-width="1.1"/>
<rect x="575.8" y="780.74" width="12.4" height="8.56" fill="#97c4f5" stroke="#111" stroke-width="1.2"/>
<rect x="591.6" y="780.74" width="12.4" height="8.56" fill="#f29aa0" stroke="#111" stroke-width="1.2"/>
<line x1="582" y1="779.57" x2="582" y2="781.8" stroke="#111" stroke-width="1.1"/>
<line x1="578.6" y1="779.57" x2="585.4" y2="779.57" stroke="#111" stroke-width="1.1"/>
<line x1="578.6" y1="781.8" x2="585.4" y2="781.8" stroke="#111" stroke-width="1.1"/>
<line x1="597.8" y1="779.92" x2="597.8" y2="781.56" stroke="#111" stroke-width="1.1"/>
<line x1="594.4" y1="779.92" x2="601.2" y2="779.92" stroke="#111" stroke-width="1.1"/>
<line x1="594.4" y1="781.56" x2="601.2" y2="781.56" stroke="#111" stroke-width="1.1"/>
<line x1="589.9" y1="789.3" x2="589.9" y2="792.9" stroke="#000" stroke-width="1.1"/>
<rect x="613.6" y="733.37" width="12.4" height="55.93" fill="#97c4f5" stroke="#111" stroke-width="1.2"/>
<rect x="629.4" y="733.25" width="12.4" height="56.05" fill="#f29aa0" stroke="#111" stroke-width="1.2"/>
<line x1="619.8" y1="728.92" x2="619.8" y2="737.59" stroke="#111" stroke-width="1.1"/>
<line x1="616.4" y1="728.92" x2="623.2" y2="728.92" stroke="#111" stroke-width="1.1"/>
<line x1="616.4" y1="737.59" x2="623.2" y2="737.59" stroke="#111" stroke-width="1.1"/>
<line x1="635.6" y1="728.56" x2="635.6" y2="738.18" stroke="#111" stroke-width="1.1"/>
<line x1="632.2" y1="728.56" x2="639" y2="728.56" stroke="#111" stroke-width="1.1"/>
<line x1="632.2" y1="738.18" x2="639" y2="738.18" stroke="#111" stroke-width="1.1"/>
<line x1="627.7" y1="789.3" x2="627.7" y2="792.9" stroke="#000" stroke-width="1.1"/>
<rect x="651.4" y="747.44" width="12.4" height="41.86" fill="#97c4f5" stroke="#111" stroke-width="1.2"/>
<rect x="667.2" y="753.54" width="12.4" height="35.76" fill="#f29aa0" stroke="#111" stroke-width="1.2"/>
<line x1="657.6" y1="745.21" x2="657.6" y2="749.55" stroke="#111" stroke-width="1.1"/>
<line x1="654.2" y1="745.21" x2="661" y2="745.21" stroke="#111" stroke-width="1.1"/>
<line x1="654.2" y1="749.55" x2="661" y2="749.55" stroke="#111" stroke-width="1.1"/>
<line x1="673.4" y1="750.72" x2="673.4" y2="756.35" stroke="#111" stroke-width="1.1"/>
<line x1="670" y1="750.72" x2="676.8" y2="750.72" stroke="#111" stroke-width="1.1"/>
<line x1="670" y1="756.35" x2="676.8" y2="756.35" stroke="#111" stroke-width="1.1"/>
<line x1="665.5" y1="789.3" x2="665.5" y2="792.9" stroke="#000" stroke-width="1.1"/>
<circle cx="504.6" cy="746.2" r="1.5" fill="#000"/>
<circle cx="508.2" cy="747.2" r="1.5" fill="#000"/>
<circle cx="501.4" cy="752" r="1.5" fill="#000"/>
<circle cx="505.3" cy="753.5" r="1.5" fill="#000"/>
<circle cx="508.2" cy="753.5" r="1.5" fill="#000"/>
<circle cx="511.6" cy="751.3" r="1.5" fill="#000"/>
<circle cx="504.6" cy="763.7" r="1.5" fill="#000"/>
<circle cx="523.6" cy="763" r="1.5" fill="#000"/>
<circle cx="520" cy="766.6" r="1.5" fill="#000"/>
<circle cx="517" cy="769.6" r="1.5" fill="#000"/>
<circle cx="520.7" cy="771" r="1.5" fill="#000"/>
<circle cx="527.2" cy="771" r="1.5" fill="#000"/>
<circle cx="517.7" cy="774.4" r="1.5" fill="#000"/>
<circle cx="524.3" cy="773.5" r="1.5" fill="#000"/>
<circle cx="544.3" cy="729.4" r="1.5" fill="#000"/>
<circle cx="544.3" cy="733.8" r="1.5" fill="#000"/>
<circle cx="539.6" cy="741.1" r="1.5" fill="#000"/>
<circle cx="549.1" cy="740" r="1.5" fill="#000"/>
<circle cx="544.3" cy="753" r="1.5" fill="#000"/>
<circle cx="544.3" cy="768.5" r="1.5" fill="#000"/>
<circle cx="543.3" cy="741.8" r="1.5" fill="#000"/>
<circle cx="555" cy="747.7" r="1.5" fill="#000"/>
<circle cx="560" cy="751.6" r="1.5" fill="#000"/>
<circle cx="564.7" cy="749.6" r="1.5" fill="#000"/>
<circle cx="558.3" cy="756.4" r="1.5" fill="#000"/>
<circle cx="555" cy="764.5" r="1.5" fill="#000"/>
<circle cx="564.7" cy="763.7" r="1.5" fill="#000"/>
<circle cx="560" cy="758.6" r="1.5" fill="#000"/>
<circle cx="577" cy="776.5" r="1.5" fill="#000"/>
<circle cx="580.4" cy="785.4" r="1.5" fill="#000"/>
<circle cx="583.8" cy="777.6" r="1.5" fill="#000"/>
<circle cx="586.8" cy="781.5" r="1.5" fill="#000"/>
<circle cx="577" cy="780.6" r="1.5" fill="#000"/>
<circle cx="580.4" cy="781" r="1.5" fill="#000"/>
<circle cx="583.8" cy="780.2" r="1.5" fill="#000"/>
<circle cx="593.2" cy="778.6" r="1.5" fill="#000"/>
<circle cx="596.9" cy="778.6" r="1.5" fill="#000"/>
<circle cx="600.2" cy="778.1" r="1.5" fill="#000"/>
<circle cx="602.7" cy="780.3" r="1.5" fill="#000"/>
<circle cx="595.2" cy="785.4" r="1.5" fill="#000"/>
<circle cx="599.4" cy="782.3" r="1.5" fill="#000"/>
<circle cx="593.2" cy="781.6" r="1.5" fill="#000"/>
<circle cx="614.5" cy="718.5" r="1.5" fill="#000"/>
<circle cx="620" cy="718.5" r="1.5" fill="#000"/>
<circle cx="620" cy="725.3" r="1.5" fill="#000"/>
<circle cx="620" cy="735" r="1.5" fill="#000"/>
<circle cx="624.6" cy="740" r="1.5" fill="#000"/>
<circle cx="620" cy="742" r="1.5" fill="#000"/>
<circle cx="620" cy="749.6" r="1.5" fill="#000"/>
<circle cx="635.5" cy="706.5" r="1.5" fill="#000"/>
<circle cx="630.4" cy="728.3" r="1.5" fill="#000"/>
<circle cx="640.2" cy="728.3" r="1.5" fill="#000"/>
<circle cx="635.5" cy="733.3" r="1.5" fill="#000"/>
<circle cx="630.4" cy="744" r="1.5" fill="#000"/>
<circle cx="635.5" cy="744" r="1.5" fill="#000"/>
<circle cx="640.2" cy="744" r="1.5" fill="#000"/>
<circle cx="655.6" cy="736.2" r="1.5" fill="#000"/>
<circle cx="659" cy="740" r="1.5" fill="#000"/>
<circle cx="656.5" cy="743.4" r="1.5" fill="#000"/>
<circle cx="652.6" cy="753.8" r="1.5" fill="#000"/>
<circle cx="656.5" cy="750.8" r="1.5" fill="#000"/>
<circle cx="660.6" cy="753" r="1.5" fill="#000"/>
<circle cx="662.7" cy="751.3" r="1.5" fill="#000"/>
<circle cx="668.7" cy="745.7" r="1.5" fill="#000"/>
<circle cx="673.2" cy="744.6" r="1.5" fill="#000"/>
<circle cx="678.3" cy="746.2" r="1.5" fill="#000"/>
<circle cx="673.2" cy="750.8" r="1.5" fill="#000"/>
<circle cx="668.7" cy="763" r="1.5" fill="#000"/>
<circle cx="678.3" cy="762.5" r="1.5" fill="#000"/>
<circle cx="673.2" cy="748" r="1.5" fill="#000"/>
<path d="M506.4,740.4 V735 H521.1 V740.4" fill="none" stroke="#222" stroke-width="1.1"/>
<path d="M544.3,723.9 V719.2 H561.2 V723.9" fill="none" stroke="#222" stroke-width="1.1"/>
<text x="513.7" y="718" font-size="10.2" text-anchor="middle"><tspan font-style="italic">p</tspan>=</text>
<text x="513.7" y="729.4" font-size="10.2" text-anchor="middle">2.6E-5</text>
<text x="552.6" y="701.7" font-size="10.2" text-anchor="middle"><tspan font-style="italic">p</tspan>=</text>
<text x="552.6" y="713.4" font-size="10.2" text-anchor="middle">0.0618</text>
<rect x="581" y="688" width="10.6" height="9.6" fill="#a9cdee" stroke="#222" stroke-width="1.1"/>
<text x="597" y="696.4" font-size="12">PBS</text>
<rect x="633" y="688" width="10.6" height="9.6" fill="#f2828a" stroke="#222" stroke-width="1.1"/>
<text x="649" y="696.4" font-size="12">HHT</text>
<text transform="translate(516.9,797.4) rotate(-45)" font-size="10.4" text-anchor="end">CD142 hi</text>
<text transform="translate(554.7,797.4) rotate(-45)" font-size="10.4" text-anchor="end">ICAM-1 hi</text>
<text transform="translate(592.5,797.4) rotate(-45)" font-size="10.4" text-anchor="end">DPP-4 hi</text>
<text transform="translate(630.3,797.4) rotate(-45)" font-size="10.4" text-anchor="end">CD34 hi</text>
<text transform="translate(668.1,797.4) rotate(-45)" font-size="10.4" text-anchor="end">CD9 hi</text>
<text transform="translate(468.8,740) rotate(-90)" font-size="11.7" text-anchor="middle">% of Pdgfr<tspan font-family="Liberation Serif" font-style="italic">α</tspan> (+) APCs</text>
</svg>
</body></html>
